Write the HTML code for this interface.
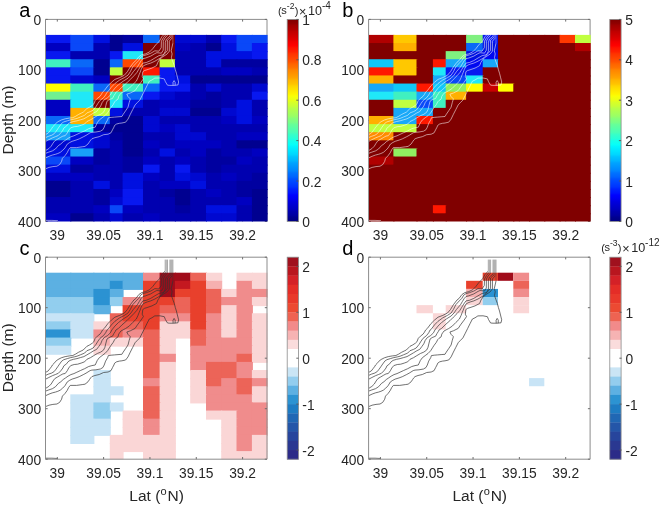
<!DOCTYPE html>
<html><head><meta charset="utf-8"><title>Figure</title><style>html,body{margin:0;padding:0;background:#fff;}body{width:660px;height:506px;overflow:hidden;font-family:"Liberation Sans",sans-serif;}svg{display:block;will-change:transform;}</style></head><body>
<svg width="660" height="506" viewBox="0 0 660 506"><defs><linearGradient id="jetg" x1="0" y1="0" x2="0" y2="1"><stop offset="0" stop-color="#800000"/><stop offset="0.02" stop-color="#900000"/><stop offset="0.03" stop-color="#a00000"/><stop offset="0.05" stop-color="#b00000"/><stop offset="0.06" stop-color="#c00000"/><stop offset="0.08" stop-color="#d00000"/><stop offset="0.1" stop-color="#e10000"/><stop offset="0.11" stop-color="#f10000"/><stop offset="0.13" stop-color="#ff0200"/><stop offset="0.14" stop-color="#ff1200"/><stop offset="0.16" stop-color="#ff2200"/><stop offset="0.17" stop-color="#ff3300"/><stop offset="0.19" stop-color="#ff4300"/><stop offset="0.21" stop-color="#ff5300"/><stop offset="0.22" stop-color="#ff6300"/><stop offset="0.24" stop-color="#ff7300"/><stop offset="0.25" stop-color="#ff8400"/><stop offset="0.27" stop-color="#ff9400"/><stop offset="0.29" stop-color="#ffa400"/><stop offset="0.3" stop-color="#ffb400"/><stop offset="0.32" stop-color="#ffc400"/><stop offset="0.33" stop-color="#ffd400"/><stop offset="0.35" stop-color="#ffe500"/><stop offset="0.37" stop-color="#fff500"/><stop offset="0.38" stop-color="#f9ff06"/><stop offset="0.4" stop-color="#e9ff16"/><stop offset="0.41" stop-color="#d9ff26"/><stop offset="0.43" stop-color="#c8ff37"/><stop offset="0.44" stop-color="#b8ff47"/><stop offset="0.46" stop-color="#a8ff57"/><stop offset="0.48" stop-color="#98ff67"/><stop offset="0.49" stop-color="#88ff77"/><stop offset="0.51" stop-color="#77ff88"/><stop offset="0.52" stop-color="#67ff98"/><stop offset="0.54" stop-color="#57ffa8"/><stop offset="0.56" stop-color="#47ffb8"/><stop offset="0.57" stop-color="#37ffc8"/><stop offset="0.59" stop-color="#26ffd9"/><stop offset="0.6" stop-color="#16ffe9"/><stop offset="0.62" stop-color="#06fff9"/><stop offset="0.63" stop-color="#00f5ff"/><stop offset="0.65" stop-color="#00e5ff"/><stop offset="0.67" stop-color="#00d5ff"/><stop offset="0.68" stop-color="#00c4ff"/><stop offset="0.7" stop-color="#00b4ff"/><stop offset="0.71" stop-color="#00a4ff"/><stop offset="0.73" stop-color="#0094ff"/><stop offset="0.75" stop-color="#0084ff"/><stop offset="0.76" stop-color="#0073ff"/><stop offset="0.78" stop-color="#0063ff"/><stop offset="0.79" stop-color="#0053ff"/><stop offset="0.81" stop-color="#0043ff"/><stop offset="0.83" stop-color="#0033ff"/><stop offset="0.84" stop-color="#0022ff"/><stop offset="0.86" stop-color="#0012ff"/><stop offset="0.87" stop-color="#0002ff"/><stop offset="0.89" stop-color="#0000f1"/><stop offset="0.9" stop-color="#0000e1"/><stop offset="0.92" stop-color="#0000d0"/><stop offset="0.94" stop-color="#0000c0"/><stop offset="0.95" stop-color="#0000b0"/><stop offset="0.97" stop-color="#0000a0"/><stop offset="0.98" stop-color="#000090"/><stop offset="1" stop-color="#000080"/></linearGradient><clipPath id="ca"><rect x="45.9" y="19.4" width="221.7" height="202.1"/></clipPath><clipPath id="cb"><rect x="369" y="19.4" width="221.7" height="202.1"/></clipPath><clipPath id="cc"><rect x="45.9" y="257.2" width="221.7" height="202.1"/></clipPath><clipPath id="cd"><rect x="369" y="257.2" width="221.7" height="202.1"/></clipPath></defs>
<path d="M45.5 221.4 V19.4 H267 V221.4" fill="none" stroke="#8c8c8c" stroke-width="1"/>
<path d="M57.3 19.4 v2.2 M57.3 221.4 v-2.2 M103.62 19.4 v2.2 M103.62 221.4 v-2.2 M149.95 19.4 v2.2 M149.95 221.4 v-2.2 M196.27 19.4 v2.2 M196.27 221.4 v-2.2 M242.6 19.4 v2.2 M242.6 221.4 v-2.2 M45.5 19.4 h2.2 M267 19.4 h-2.2 M45.5 69.9 h2.2 M267 69.9 h-2.2 M45.5 120.4 h2.2 M267 120.4 h-2.2 M45.5 170.9 h2.2 M267 170.9 h-2.2 M45.5 221.4 h2.2 M267 221.4 h-2.2" stroke="#6e6e6e" stroke-width="1" fill="none"/>
<path d="M368.6 221.4 V19.4 H590.1 V221.4" fill="none" stroke="#8c8c8c" stroke-width="1"/>
<path d="M380.4 19.4 v2.2 M380.4 221.4 v-2.2 M426.72 19.4 v2.2 M426.72 221.4 v-2.2 M473.05 19.4 v2.2 M473.05 221.4 v-2.2 M519.37 19.4 v2.2 M519.37 221.4 v-2.2 M565.7 19.4 v2.2 M565.7 221.4 v-2.2 M368.6 19.4 h2.2 M590.1 19.4 h-2.2 M368.6 69.9 h2.2 M590.1 69.9 h-2.2 M368.6 120.4 h2.2 M590.1 120.4 h-2.2 M368.6 170.9 h2.2 M590.1 170.9 h-2.2 M368.6 221.4 h2.2 M590.1 221.4 h-2.2" stroke="#6e6e6e" stroke-width="1" fill="none"/>
<g clip-path="url(#ca)"><rect x="45.9" y="34.9" width="25.4" height="9.11" fill="#0818f0"/>
<rect x="70.3" y="34.9" width="24.1" height="9.11" fill="#0a48f8"/>
<rect x="93.4" y="34.9" width="17.4" height="9.11" fill="#0010e0"/>
<rect x="109.8" y="34.9" width="13.8" height="9.11" fill="#000090"/>
<rect x="122.6" y="34.9" width="21.4" height="9.11" fill="#0000a0"/>
<rect x="143" y="34.9" width="17.6" height="9.11" fill="#0a68f8"/>
<rect x="159.6" y="34.9" width="16.3" height="9.11" fill="#800000"/>
<rect x="174.9" y="34.9" width="16.3" height="9.11" fill="#0008d0"/>
<rect x="190.2" y="34.9" width="16.8" height="9.11" fill="#0008d0"/>
<rect x="206" y="34.9" width="16.2" height="9.11" fill="#0000b0"/>
<rect x="221.2" y="34.9" width="16.3" height="9.11" fill="#0818f0"/>
<rect x="236.5" y="34.9" width="16.4" height="9.11" fill="#0a48f8"/>
<rect x="251.9" y="34.9" width="16.7" height="9.11" fill="#0a48f8"/>
<rect x="45.9" y="43.01" width="25.4" height="9.11" fill="#0000c0"/>
<rect x="70.3" y="43.01" width="24.1" height="9.11" fill="#0a48f8"/>
<rect x="93.4" y="43.01" width="17.4" height="9.11" fill="#0000b0"/>
<rect x="109.8" y="43.01" width="13.8" height="9.11" fill="#000090"/>
<rect x="122.6" y="43.01" width="21.4" height="9.11" fill="#0010e0"/>
<rect x="143" y="43.01" width="17.6" height="9.11" fill="#800000"/>
<rect x="159.6" y="43.01" width="16.3" height="9.11" fill="#800000"/>
<rect x="174.9" y="43.01" width="16.3" height="9.11" fill="#0000c0"/>
<rect x="190.2" y="43.01" width="16.8" height="9.11" fill="#0000b0"/>
<rect x="206" y="43.01" width="16.2" height="9.11" fill="#000090"/>
<rect x="221.2" y="43.01" width="16.3" height="9.11" fill="#0010e0"/>
<rect x="236.5" y="43.01" width="16.4" height="9.11" fill="#0a48f8"/>
<rect x="251.9" y="43.01" width="16.7" height="9.11" fill="#0818f0"/>
<rect x="45.9" y="51.12" width="25.4" height="9.11" fill="#0818f0"/>
<rect x="70.3" y="51.12" width="24.1" height="9.11" fill="#0000b0"/>
<rect x="93.4" y="51.12" width="17.4" height="9.11" fill="#0000b0"/>
<rect x="109.8" y="51.12" width="13.8" height="9.11" fill="#0818f0"/>
<rect x="122.6" y="51.12" width="21.4" height="9.11" fill="#20e8f8"/>
<rect x="143" y="51.12" width="17.6" height="9.11" fill="#800000"/>
<rect x="159.6" y="51.12" width="16.3" height="9.11" fill="#800000"/>
<rect x="174.9" y="51.12" width="16.3" height="9.11" fill="#0000b0"/>
<rect x="190.2" y="51.12" width="16.8" height="9.11" fill="#0000b0"/>
<rect x="206" y="51.12" width="16.2" height="9.11" fill="#0010e0"/>
<rect x="221.2" y="51.12" width="16.3" height="9.11" fill="#0010e0"/>
<rect x="236.5" y="51.12" width="16.4" height="9.11" fill="#0010e0"/>
<rect x="251.9" y="51.12" width="16.7" height="9.11" fill="#0818f0"/>
<rect x="45.9" y="59.23" width="25.4" height="9.11" fill="#40f0c0"/>
<rect x="70.3" y="59.23" width="24.1" height="9.11" fill="#0a68f8"/>
<rect x="93.4" y="59.23" width="17.4" height="9.11" fill="#000090"/>
<rect x="109.8" y="59.23" width="13.8" height="9.11" fill="#0a68f8"/>
<rect x="122.6" y="59.23" width="21.4" height="9.11" fill="#ff4800"/>
<rect x="143" y="59.23" width="17.6" height="9.11" fill="#800000"/>
<rect x="159.6" y="59.23" width="16.3" height="9.11" fill="#c0ff40"/>
<rect x="174.9" y="59.23" width="16.3" height="9.11" fill="#0000b0"/>
<rect x="190.2" y="59.23" width="16.8" height="9.11" fill="#0000b0"/>
<rect x="206" y="59.23" width="16.2" height="9.11" fill="#0010e0"/>
<rect x="221.2" y="59.23" width="16.3" height="9.11" fill="#0000a0"/>
<rect x="236.5" y="59.23" width="16.4" height="9.11" fill="#0000a0"/>
<rect x="251.9" y="59.23" width="16.7" height="9.11" fill="#0000a0"/>
<rect x="45.9" y="67.33" width="25.4" height="9.11" fill="#0818f0"/>
<rect x="70.3" y="67.33" width="24.1" height="9.11" fill="#0a48f8"/>
<rect x="93.4" y="67.33" width="17.4" height="9.11" fill="#000090"/>
<rect x="109.8" y="67.33" width="13.8" height="9.11" fill="#c0ff40"/>
<rect x="122.6" y="67.33" width="21.4" height="9.11" fill="#800000"/>
<rect x="143" y="67.33" width="17.6" height="9.11" fill="#ff1800"/>
<rect x="159.6" y="67.33" width="16.3" height="9.11" fill="#0818f0"/>
<rect x="174.9" y="67.33" width="16.3" height="9.11" fill="#0000b0"/>
<rect x="190.2" y="67.33" width="16.8" height="9.11" fill="#0000b0"/>
<rect x="206" y="67.33" width="16.2" height="9.11" fill="#0000b0"/>
<rect x="221.2" y="67.33" width="16.3" height="9.11" fill="#0000c0"/>
<rect x="236.5" y="67.33" width="16.4" height="9.11" fill="#0000c0"/>
<rect x="251.9" y="67.33" width="16.7" height="9.11" fill="#0000b0"/>
<rect x="45.9" y="75.44" width="25.4" height="9.11" fill="#0818f0"/>
<rect x="70.3" y="75.44" width="24.1" height="9.11" fill="#0008d0"/>
<rect x="93.4" y="75.44" width="17.4" height="9.11" fill="#0000c0"/>
<rect x="109.8" y="75.44" width="13.8" height="9.11" fill="#800000"/>
<rect x="122.6" y="75.44" width="21.4" height="9.11" fill="#800000"/>
<rect x="143" y="75.44" width="17.6" height="9.11" fill="#40f0c0"/>
<rect x="159.6" y="75.44" width="16.3" height="9.11" fill="#0818f0"/>
<rect x="174.9" y="75.44" width="16.3" height="9.11" fill="#0010e0"/>
<rect x="190.2" y="75.44" width="16.8" height="9.11" fill="#000090"/>
<rect x="206" y="75.44" width="16.2" height="9.11" fill="#000090"/>
<rect x="221.2" y="75.44" width="16.3" height="9.11" fill="#000090"/>
<rect x="236.5" y="75.44" width="16.4" height="9.11" fill="#000090"/>
<rect x="251.9" y="75.44" width="16.7" height="9.11" fill="#000090"/>
<rect x="45.9" y="83.55" width="25.4" height="9.11" fill="#ffff00"/>
<rect x="70.3" y="83.55" width="24.1" height="9.11" fill="#40f0c0"/>
<rect x="93.4" y="83.55" width="17.4" height="9.11" fill="#0a68f8"/>
<rect x="109.8" y="83.55" width="13.8" height="9.11" fill="#ff4800"/>
<rect x="122.6" y="83.55" width="21.4" height="9.11" fill="#40f0c0"/>
<rect x="143" y="83.55" width="17.6" height="9.11" fill="#0a68f8"/>
<rect x="159.6" y="83.55" width="16.3" height="9.11" fill="#0818f0"/>
<rect x="174.9" y="83.55" width="16.3" height="9.11" fill="#0818f0"/>
<rect x="190.2" y="83.55" width="16.8" height="9.11" fill="#0000b0"/>
<rect x="206" y="83.55" width="16.2" height="9.11" fill="#0008d0"/>
<rect x="221.2" y="83.55" width="16.3" height="9.11" fill="#0000b0"/>
<rect x="236.5" y="83.55" width="16.4" height="9.11" fill="#0000b0"/>
<rect x="251.9" y="83.55" width="16.7" height="9.11" fill="#0008d0"/>
<rect x="45.9" y="91.66" width="25.4" height="9.11" fill="#70f090"/>
<rect x="70.3" y="91.66" width="24.1" height="9.11" fill="#20e8f8"/>
<rect x="93.4" y="91.66" width="17.4" height="9.11" fill="#ff4800"/>
<rect x="109.8" y="91.66" width="13.8" height="9.11" fill="#40f0c0"/>
<rect x="122.6" y="91.66" width="21.4" height="9.11" fill="#0a68f8"/>
<rect x="143" y="91.66" width="17.6" height="9.11" fill="#0818f0"/>
<rect x="159.6" y="91.66" width="16.3" height="9.11" fill="#0008d0"/>
<rect x="174.9" y="91.66" width="16.3" height="9.11" fill="#0000c0"/>
<rect x="190.2" y="91.66" width="16.8" height="9.11" fill="#0000b0"/>
<rect x="206" y="91.66" width="16.2" height="9.11" fill="#0000a0"/>
<rect x="221.2" y="91.66" width="16.3" height="9.11" fill="#0000b0"/>
<rect x="236.5" y="91.66" width="16.4" height="9.11" fill="#0000b0"/>
<rect x="251.9" y="91.66" width="16.7" height="9.11" fill="#0818f0"/>
<rect x="45.9" y="99.77" width="25.4" height="9.11" fill="#0000c0"/>
<rect x="70.3" y="99.77" width="24.1" height="9.11" fill="#20e8f8"/>
<rect x="93.4" y="99.77" width="17.4" height="9.11" fill="#800000"/>
<rect x="109.8" y="99.77" width="13.8" height="9.11" fill="#20e8f8"/>
<rect x="122.6" y="99.77" width="21.4" height="9.11" fill="#0010e0"/>
<rect x="143" y="99.77" width="17.6" height="9.11" fill="#0000b0"/>
<rect x="159.6" y="99.77" width="16.3" height="9.11" fill="#0000c0"/>
<rect x="174.9" y="99.77" width="16.3" height="9.11" fill="#0000c0"/>
<rect x="190.2" y="99.77" width="16.8" height="9.11" fill="#0000a0"/>
<rect x="206" y="99.77" width="16.2" height="9.11" fill="#0000a0"/>
<rect x="221.2" y="99.77" width="16.3" height="9.11" fill="#0000b0"/>
<rect x="236.5" y="99.77" width="16.4" height="9.11" fill="#0010e0"/>
<rect x="251.9" y="99.77" width="16.7" height="9.11" fill="#0000b0"/>
<rect x="45.9" y="107.88" width="25.4" height="9.11" fill="#0000c0"/>
<rect x="70.3" y="107.88" width="24.1" height="9.11" fill="#ffb000"/>
<rect x="93.4" y="107.88" width="17.4" height="9.11" fill="#c0ff40"/>
<rect x="109.8" y="107.88" width="13.8" height="9.11" fill="#0010e0"/>
<rect x="122.6" y="107.88" width="21.4" height="9.11" fill="#0000b0"/>
<rect x="143" y="107.88" width="17.6" height="9.11" fill="#0000b0"/>
<rect x="159.6" y="107.88" width="16.3" height="9.11" fill="#0008d0"/>
<rect x="174.9" y="107.88" width="16.3" height="9.11" fill="#0008d0"/>
<rect x="190.2" y="107.88" width="16.8" height="9.11" fill="#000090"/>
<rect x="206" y="107.88" width="16.2" height="9.11" fill="#000090"/>
<rect x="221.2" y="107.88" width="16.3" height="9.11" fill="#0008d0"/>
<rect x="236.5" y="107.88" width="16.4" height="9.11" fill="#0010e0"/>
<rect x="251.9" y="107.88" width="16.7" height="9.11" fill="#0000b0"/>
<rect x="45.9" y="115.99" width="25.4" height="9.11" fill="#0a68f8"/>
<rect x="70.3" y="115.99" width="24.1" height="9.11" fill="#ffb000"/>
<rect x="93.4" y="115.99" width="17.4" height="9.11" fill="#0a68f8"/>
<rect x="109.8" y="115.99" width="13.8" height="9.11" fill="#0000a0"/>
<rect x="122.6" y="115.99" width="21.4" height="9.11" fill="#000090"/>
<rect x="143" y="115.99" width="17.6" height="9.11" fill="#0008d0"/>
<rect x="159.6" y="115.99" width="16.3" height="9.11" fill="#0000b0"/>
<rect x="174.9" y="115.99" width="16.3" height="9.11" fill="#0000b0"/>
<rect x="190.2" y="115.99" width="16.8" height="9.11" fill="#0000b0"/>
<rect x="206" y="115.99" width="16.2" height="9.11" fill="#0000b0"/>
<rect x="221.2" y="115.99" width="16.3" height="9.11" fill="#0000c0"/>
<rect x="236.5" y="115.99" width="16.4" height="9.11" fill="#0010e0"/>
<rect x="251.9" y="115.99" width="16.7" height="9.11" fill="#0000c0"/>
<rect x="45.9" y="124.1" width="25.4" height="9.11" fill="#20e8f8"/>
<rect x="70.3" y="124.1" width="24.1" height="9.11" fill="#20e8f8"/>
<rect x="93.4" y="124.1" width="17.4" height="9.11" fill="#0000a0"/>
<rect x="109.8" y="124.1" width="13.8" height="9.11" fill="#000090"/>
<rect x="122.6" y="124.1" width="21.4" height="9.11" fill="#000090"/>
<rect x="143" y="124.1" width="17.6" height="9.11" fill="#0008d0"/>
<rect x="159.6" y="124.1" width="16.3" height="9.11" fill="#0000c0"/>
<rect x="174.9" y="124.1" width="16.3" height="9.11" fill="#0008d0"/>
<rect x="190.2" y="124.1" width="16.8" height="9.11" fill="#0000b0"/>
<rect x="206" y="124.1" width="16.2" height="9.11" fill="#0000b0"/>
<rect x="221.2" y="124.1" width="16.3" height="9.11" fill="#0000b0"/>
<rect x="236.5" y="124.1" width="16.4" height="9.11" fill="#0000b0"/>
<rect x="251.9" y="124.1" width="16.7" height="9.11" fill="#0000b0"/>
<rect x="45.9" y="132.2" width="25.4" height="9.11" fill="#18a0f8"/>
<rect x="70.3" y="132.2" width="24.1" height="9.11" fill="#0010e0"/>
<rect x="93.4" y="132.2" width="17.4" height="9.11" fill="#0008d0"/>
<rect x="109.8" y="132.2" width="13.8" height="9.11" fill="#0000a0"/>
<rect x="122.6" y="132.2" width="21.4" height="9.11" fill="#000090"/>
<rect x="143" y="132.2" width="17.6" height="9.11" fill="#0000b0"/>
<rect x="159.6" y="132.2" width="16.3" height="9.11" fill="#0000b0"/>
<rect x="174.9" y="132.2" width="16.3" height="9.11" fill="#0008d0"/>
<rect x="190.2" y="132.2" width="16.8" height="9.11" fill="#0008d0"/>
<rect x="206" y="132.2" width="16.2" height="9.11" fill="#0000b0"/>
<rect x="221.2" y="132.2" width="16.3" height="9.11" fill="#0000b0"/>
<rect x="236.5" y="132.2" width="16.4" height="9.11" fill="#0000c0"/>
<rect x="251.9" y="132.2" width="16.7" height="9.11" fill="#0000c0"/>
<rect x="45.9" y="140.31" width="25.4" height="9.11" fill="#0008d0"/>
<rect x="70.3" y="140.31" width="24.1" height="9.11" fill="#0010e0"/>
<rect x="93.4" y="140.31" width="17.4" height="9.11" fill="#0008d0"/>
<rect x="109.8" y="140.31" width="13.8" height="9.11" fill="#0000b0"/>
<rect x="122.6" y="140.31" width="21.4" height="9.11" fill="#000090"/>
<rect x="143" y="140.31" width="17.6" height="9.11" fill="#0000c0"/>
<rect x="159.6" y="140.31" width="16.3" height="9.11" fill="#0000b0"/>
<rect x="174.9" y="140.31" width="16.3" height="9.11" fill="#0000c0"/>
<rect x="190.2" y="140.31" width="16.8" height="9.11" fill="#0000c0"/>
<rect x="206" y="140.31" width="16.2" height="9.11" fill="#0000c0"/>
<rect x="221.2" y="140.31" width="16.3" height="9.11" fill="#0000b0"/>
<rect x="236.5" y="140.31" width="16.4" height="9.11" fill="#000090"/>
<rect x="251.9" y="140.31" width="16.7" height="9.11" fill="#000090"/>
<rect x="45.9" y="148.42" width="25.4" height="9.11" fill="#0010e0"/>
<rect x="70.3" y="148.42" width="24.1" height="9.11" fill="#18a0f8"/>
<rect x="93.4" y="148.42" width="17.4" height="9.11" fill="#0000a0"/>
<rect x="109.8" y="148.42" width="13.8" height="9.11" fill="#0000b0"/>
<rect x="122.6" y="148.42" width="21.4" height="9.11" fill="#000090"/>
<rect x="143" y="148.42" width="17.6" height="9.11" fill="#0000b0"/>
<rect x="159.6" y="148.42" width="16.3" height="9.11" fill="#0010e0"/>
<rect x="174.9" y="148.42" width="16.3" height="9.11" fill="#0000b0"/>
<rect x="190.2" y="148.42" width="16.8" height="9.11" fill="#0000c0"/>
<rect x="206" y="148.42" width="16.2" height="9.11" fill="#0000a0"/>
<rect x="221.2" y="148.42" width="16.3" height="9.11" fill="#0000b0"/>
<rect x="236.5" y="148.42" width="16.4" height="9.11" fill="#0000b0"/>
<rect x="251.9" y="148.42" width="16.7" height="9.11" fill="#0000c0"/>
<rect x="45.9" y="156.53" width="25.4" height="9.11" fill="#0a48f8"/>
<rect x="70.3" y="156.53" width="24.1" height="9.11" fill="#0000c0"/>
<rect x="93.4" y="156.53" width="17.4" height="9.11" fill="#0000a0"/>
<rect x="109.8" y="156.53" width="13.8" height="9.11" fill="#0000b0"/>
<rect x="122.6" y="156.53" width="21.4" height="9.11" fill="#0000a0"/>
<rect x="143" y="156.53" width="17.6" height="9.11" fill="#0000c0"/>
<rect x="159.6" y="156.53" width="16.3" height="9.11" fill="#0000b0"/>
<rect x="174.9" y="156.53" width="16.3" height="9.11" fill="#0000c0"/>
<rect x="190.2" y="156.53" width="16.8" height="9.11" fill="#0000b0"/>
<rect x="206" y="156.53" width="16.2" height="9.11" fill="#0000a0"/>
<rect x="221.2" y="156.53" width="16.3" height="9.11" fill="#0000a0"/>
<rect x="236.5" y="156.53" width="16.4" height="9.11" fill="#0000c0"/>
<rect x="251.9" y="156.53" width="16.7" height="9.11" fill="#0000b0"/>
<rect x="45.9" y="164.64" width="25.4" height="9.11" fill="#0010e0"/>
<rect x="70.3" y="164.64" width="24.1" height="9.11" fill="#0000a0"/>
<rect x="93.4" y="164.64" width="17.4" height="9.11" fill="#0000b0"/>
<rect x="109.8" y="164.64" width="13.8" height="9.11" fill="#0000b0"/>
<rect x="122.6" y="164.64" width="21.4" height="9.11" fill="#0000a0"/>
<rect x="143" y="164.64" width="17.6" height="9.11" fill="#0818f0"/>
<rect x="159.6" y="164.64" width="16.3" height="9.11" fill="#0000b0"/>
<rect x="174.9" y="164.64" width="16.3" height="9.11" fill="#0818f0"/>
<rect x="190.2" y="164.64" width="16.8" height="9.11" fill="#0000b0"/>
<rect x="206" y="164.64" width="16.2" height="9.11" fill="#0000a0"/>
<rect x="221.2" y="164.64" width="16.3" height="9.11" fill="#0000b0"/>
<rect x="236.5" y="164.64" width="16.4" height="9.11" fill="#0000b0"/>
<rect x="251.9" y="164.64" width="16.7" height="9.11" fill="#0000b0"/>
<rect x="45.9" y="172.75" width="25.4" height="9.11" fill="#0000c0"/>
<rect x="70.3" y="172.75" width="24.1" height="9.11" fill="#0000c0"/>
<rect x="93.4" y="172.75" width="17.4" height="9.11" fill="#0000b0"/>
<rect x="109.8" y="172.75" width="13.8" height="9.11" fill="#0000b0"/>
<rect x="122.6" y="172.75" width="21.4" height="9.11" fill="#0010e0"/>
<rect x="143" y="172.75" width="17.6" height="9.11" fill="#0000c0"/>
<rect x="159.6" y="172.75" width="16.3" height="9.11" fill="#0000b0"/>
<rect x="174.9" y="172.75" width="16.3" height="9.11" fill="#0010e0"/>
<rect x="190.2" y="172.75" width="16.8" height="9.11" fill="#0008d0"/>
<rect x="206" y="172.75" width="16.2" height="9.11" fill="#0000b0"/>
<rect x="221.2" y="172.75" width="16.3" height="9.11" fill="#0000c0"/>
<rect x="236.5" y="172.75" width="16.4" height="9.11" fill="#0000b0"/>
<rect x="251.9" y="172.75" width="16.7" height="9.11" fill="#0000a0"/>
<rect x="45.9" y="180.86" width="25.4" height="9.11" fill="#000090"/>
<rect x="70.3" y="180.86" width="24.1" height="9.11" fill="#0000b0"/>
<rect x="93.4" y="180.86" width="17.4" height="9.11" fill="#0010e0"/>
<rect x="109.8" y="180.86" width="13.8" height="9.11" fill="#0000b0"/>
<rect x="122.6" y="180.86" width="21.4" height="9.11" fill="#0010e0"/>
<rect x="143" y="180.86" width="17.6" height="9.11" fill="#0000b0"/>
<rect x="159.6" y="180.86" width="16.3" height="9.11" fill="#0000c0"/>
<rect x="174.9" y="180.86" width="16.3" height="9.11" fill="#0000c0"/>
<rect x="190.2" y="180.86" width="16.8" height="9.11" fill="#0010e0"/>
<rect x="206" y="180.86" width="16.2" height="9.11" fill="#0000b0"/>
<rect x="221.2" y="180.86" width="16.3" height="9.11" fill="#0000b0"/>
<rect x="236.5" y="180.86" width="16.4" height="9.11" fill="#0000a0"/>
<rect x="251.9" y="180.86" width="16.7" height="9.11" fill="#0000a0"/>
<rect x="45.9" y="188.97" width="25.4" height="9.11" fill="#000090"/>
<rect x="70.3" y="188.97" width="24.1" height="9.11" fill="#0000b0"/>
<rect x="93.4" y="188.97" width="17.4" height="9.11" fill="#0000a0"/>
<rect x="109.8" y="188.97" width="13.8" height="9.11" fill="#0000c0"/>
<rect x="122.6" y="188.97" width="21.4" height="9.11" fill="#0818f0"/>
<rect x="143" y="188.97" width="17.6" height="9.11" fill="#0000b0"/>
<rect x="159.6" y="188.97" width="16.3" height="9.11" fill="#0000a0"/>
<rect x="174.9" y="188.97" width="16.3" height="9.11" fill="#000090"/>
<rect x="190.2" y="188.97" width="16.8" height="9.11" fill="#0000b0"/>
<rect x="206" y="188.97" width="16.2" height="9.11" fill="#0000c0"/>
<rect x="221.2" y="188.97" width="16.3" height="9.11" fill="#0000b0"/>
<rect x="236.5" y="188.97" width="16.4" height="9.11" fill="#0000a0"/>
<rect x="251.9" y="188.97" width="16.7" height="9.11" fill="#000090"/>
<rect x="45.9" y="197.07" width="25.4" height="9.11" fill="#0000b0"/>
<rect x="70.3" y="197.07" width="24.1" height="9.11" fill="#0000b0"/>
<rect x="93.4" y="197.07" width="17.4" height="9.11" fill="#0000a0"/>
<rect x="109.8" y="197.07" width="13.8" height="9.11" fill="#0008d0"/>
<rect x="122.6" y="197.07" width="21.4" height="9.11" fill="#0818f0"/>
<rect x="143" y="197.07" width="17.6" height="9.11" fill="#0000b0"/>
<rect x="159.6" y="197.07" width="16.3" height="9.11" fill="#0000b0"/>
<rect x="174.9" y="197.07" width="16.3" height="9.11" fill="#000090"/>
<rect x="190.2" y="197.07" width="16.8" height="9.11" fill="#0000b0"/>
<rect x="206" y="197.07" width="16.2" height="9.11" fill="#0000b0"/>
<rect x="221.2" y="197.07" width="16.3" height="9.11" fill="#0000b0"/>
<rect x="236.5" y="197.07" width="16.4" height="9.11" fill="#0000c0"/>
<rect x="251.9" y="197.07" width="16.7" height="9.11" fill="#000090"/>
<rect x="45.9" y="205.18" width="25.4" height="9.11" fill="#0000b0"/>
<rect x="70.3" y="205.18" width="24.1" height="9.11" fill="#0000b0"/>
<rect x="93.4" y="205.18" width="17.4" height="9.11" fill="#0000c0"/>
<rect x="109.8" y="205.18" width="13.8" height="9.11" fill="#0a48f8"/>
<rect x="122.6" y="205.18" width="21.4" height="9.11" fill="#0000c0"/>
<rect x="143" y="205.18" width="17.6" height="9.11" fill="#0000b0"/>
<rect x="159.6" y="205.18" width="16.3" height="9.11" fill="#0000b0"/>
<rect x="174.9" y="205.18" width="16.3" height="9.11" fill="#0000a0"/>
<rect x="190.2" y="205.18" width="16.8" height="9.11" fill="#0000b0"/>
<rect x="206" y="205.18" width="16.2" height="9.11" fill="#0010e0"/>
<rect x="221.2" y="205.18" width="16.3" height="9.11" fill="#0010e0"/>
<rect x="236.5" y="205.18" width="16.4" height="9.11" fill="#0000b0"/>
<rect x="251.9" y="205.18" width="16.7" height="9.11" fill="#000090"/>
<rect x="45.9" y="213.29" width="25.4" height="9.11" fill="#0000c0"/>
<rect x="70.3" y="213.29" width="24.1" height="9.11" fill="#000090"/>
<rect x="93.4" y="213.29" width="17.4" height="9.11" fill="#0000b0"/>
<rect x="109.8" y="213.29" width="13.8" height="9.11" fill="#0008d0"/>
<rect x="122.6" y="213.29" width="21.4" height="9.11" fill="#0000b0"/>
<rect x="143" y="213.29" width="17.6" height="9.11" fill="#0000c0"/>
<rect x="159.6" y="213.29" width="16.3" height="9.11" fill="#0000b0"/>
<rect x="174.9" y="213.29" width="16.3" height="9.11" fill="#0000b0"/>
<rect x="190.2" y="213.29" width="16.8" height="9.11" fill="#0000b0"/>
<rect x="206" y="213.29" width="16.2" height="9.11" fill="#0008d0"/>
<rect x="221.2" y="213.29" width="16.3" height="9.11" fill="#0008d0"/>
<rect x="236.5" y="213.29" width="16.4" height="9.11" fill="#0000b0"/>
<rect x="251.9" y="213.29" width="16.7" height="9.11" fill="#000090"/><g fill="none" stroke="#ffffff" stroke-width="0.55" stroke-linejoin="round"><path d="M165.2 33.2 L161.9 36.7 L159.5 41 L155.6 45 L152.6 48.9 L149.6 51.9 L145.7 53.8 L141.7 54.8 L138.8 56.8 L135.8 60.8 L133.9 62.2 L130.3 66.9 L127.4 71.7 L124.4 75.2 L119.7 77.6 L114.9 79.4 L111.4 82.3 L107.8 85.9 L104.3 90.6 L102.5 92.2 L101.4 94.3 L100 96.3 L97.3 98.4 L95.2 100.5 L93.8 104 L92.4 105.3 L89.7 107.1 L86.9 108.5 L83.2 112.2 L81.1 113.2 L78.3 114.6 L75.6 116.3 L72.8 117.7 L69.3 118.1 L65.2 118.8 L61.3 120 L58 121.7 L55.7 123.5 L53.9 125.8 L52.4 127.2 L51.8 128.4 L50 130.8 L48.2 133.1 L45.6 134.6"/><path d="M166.3 34.2 L163.4 37.7 L161.4 41.2 L161.2 47.7 L158.9 51.2 L154.9 50.8 L150.7 53.3 L146.3 54.9 L142.9 55.8 L140.6 57.4 L138.7 60.6 L136.2 63.1 L132.7 66.9 L130.3 71.7 L128 75.2 L124.4 77.6 L119.7 80 L114.9 83.5 L111.4 87.1 L107.8 91.8 L107 92.2 L105.6 95 L103.5 97.7 L100 100.5 L98 103.3 L95.9 106.7 L93.1 110.2 L90.4 111.6 L86.9 112.9 L84.6 115.3 L80.4 117 L77 118.4 L74.2 119.1 L70.7 119.8 L67.3 120.8 L63.8 121.9 L61.7 123.3 L58.9 127.2 L57.7 129 L56 131.4 L54.2 133.7 L51.8 135.2 L48.2 136.4 L45.6 137.6"/><path d="M167.5 35.2 L164.9 38.2 L163.3 41.2 L163.2 50.2 L161.4 53.2 L156.9 52.7 L154.9 53.6 L150.7 56.1 L145.7 58 L142.9 58.7 L141.2 60.6 L139.3 63.7 L137.4 66.9 L133.3 71.7 L130.9 75.2 L128 78.2 L123.2 81.2 L118.5 84.7 L114.9 88.3 L111.8 92.2 L110.4 95 L107.6 97.7 L104.2 99.8 L102.1 102.6 L100.7 106 L98.7 108.8 L96.6 111.6 L93.8 112.9 L90.4 115 L86.9 117.1 L83.9 118.8 L80.4 119.8 L77 120.8 L73.5 121.5 L70 122.6 L68 124 L66.6 126 L63.8 128.1 L62.9 130.2 L60.7 133.1 L58.3 135.5 L55.4 136.7 L52.4 137.9 L48.8 139.7 L45.6 141.4"/><path d="M169.9 36.2 L166.4 39.2 L165.3 42.2 L165.3 51.2 L163.4 54.7 L158.9 55.7 L154.9 58 L150.7 60.6 L146.3 62.5 L142.9 63.1 L140.6 66.3 L138.7 69.4 L136.8 72.6 L133.9 75.8 L130.3 79.4 L126.8 82.9 L122 87.1 L118.5 90.6 L115.9 92.2 L115.3 93.6 L113.9 95.7 L112.5 98.4 L109 99.8 L107 101.2 L105.9 105.3 L104.9 109.5 L103.5 112.3 L100.7 114.3 L97.3 115.7 L93.8 117.8 L90.4 119.9 L86.9 121.5 L84.6 124 L81.1 125.3 L77.6 126.4 L74.2 126.7 L70.7 127.8 L68.7 130.2 L67.3 132.9 L65.2 135.7 L62.9 136.1 L60.7 137.3 L57.7 139.1 L54.8 140.8 L53 143.2 L51.2 146.2 L48.8 148.6 L45.6 150.6"/><path d="M170.9 37.2 L167.4 40.2 L167.3 50.7 L164.9 53.4 L160.9 57.7 L154.9 61.2 L150.7 63.1 L147.6 64 L145 65 L142.9 66.2 L141.2 69.4 L140 72.6 L139.1 74.7 L138 77.6 L136.3 81.2 L132.7 84.7 L129.2 88.3 L125.6 90.7 L120.9 93.2 L120.1 94.3 L118.7 96.3 L118 99.1 L115.9 100.5 L114.6 101.9 L113.2 104.6 L111.1 107.4 L109.7 109.5 L107.6 112.9 L104.9 115.7 L102.1 117.8 L99.3 119.9 L97.3 122.6 L95.2 127.2 L91.9 127.8 L88.7 128.7 L84.6 130.9 L80.5 132.7 L76.9 134.4 L73.9 135.8 L70.9 136.8 L68 138.4 L65.6 140.1 L63.2 141.7 L60.9 143.9 L58.4 145.6 L55.4 149 L52.4 150.9 L48.8 152.1 L45.6 153.3"/><path d="M171.9 38.2 L169.3 41.2 L169.3 51.2 L166.9 54.2 L162.9 56.7 L159.9 59.2 L157.9 62.2 L156.5 65.7 L151.9 68.1 L146.9 69.8 L144.6 70.5 L142.8 71.7 L142.2 76.4 L143.4 78.8 L141 82.3 L137.4 87.1 L135.1 90.6 L130.3 93 L126.8 94.2 L128 96.6 L130.3 98.9 L129.2 102.5 L128 107.2 L125.6 110.8 L123.2 114.3 L121.9 116.5 L118 116.8 L114.6 117.1 L111.1 117.4 L108.3 117.8 L107.6 119.9 L105.6 123.3 L104.2 127.2 L102.9 129.7 L100.4 131.2 L95.9 132 L91.9 132.3 L90.1 132.8 L86 135.4 L83.2 136.9 L79.2 138.9 L76 140.1 L72.1 141.3 L69.7 142.5 L67.3 144.1 L64.9 148 L62.6 150.4 L60.2 152.4 L57.8 153.5 L55.4 154.3 L52.2 155.1 L49 156.3 L45.6 157.9"/><path d="M172.9 43.2 L171.2 50.8 L172.1 53.9 L171.4 57.8 L172.8 61.7 L174.3 65.7 L175.3 69.7 L176.4 73.2 L177.4 77.2 L178.6 82 L177.9 85 L173.9 85.4 L169.9 85.4 L167.5 85.2 L165.4 81.7 L164.3 78.9 L159.9 78 L154.8 78.1 L151.9 80 L149.3 81.2 L146.9 85.9 L144.6 90.6 L142.2 95.4 L139.8 100.1 L137.4 102.5 L135.1 104.9 L132.7 109.6 L130.3 114.3 L128 119.1 L125.6 122.2 L121.9 123 L119.4 123.3 L116.6 124 L114.6 125.4 L113.9 127.2 L112.5 129.8 L111 132.8 L108.1 134.2 L103.6 134.7 L99.2 136.7 L94.9 137.7 L91.9 138.8 L90.8 139.9 L89.4 141.9 L88 144 L85 146.4 L82.2 146.8 L76.6 147.6 L70.3 147.6 L68.7 149.6 L67.1 152.8 L64.8 155.9 L62.4 158.3 L61.6 161.4 L59.6 164.6 L56.9 166.2 L52.9 166.6 L49 167.4 L45.6 168.8"/><path d="M45.6 220.4 L51.9 220.4 L57.9 220.7"/><path d="M165.2 21.8 L165.2 33.2 M166.3 21.8 L166.3 34.2 M167.5 21.8 L167.5 35.2 M169.9 21.8 L169.9 36.2 M170.9 21.8 L170.9 37.2 M171.9 21.8 L171.9 38.2 M172.9 21.8 L172.9 43.2" stroke-width="0.33"/><path d="M173.1 85.4 L173 82.4 L174.1 80.6 L175.2 82.4 L175.1 85.4"/></g></g>
<g clip-path="url(#cb)"><rect x="369" y="34.9" width="25.4" height="9.11" fill="#b00000"/>
<rect x="393.4" y="34.9" width="24.1" height="9.11" fill="#ffc800"/>
<rect x="416.5" y="34.9" width="17.4" height="9.11" fill="#800000"/>
<rect x="432.9" y="34.9" width="13.8" height="9.11" fill="#800000"/>
<rect x="445.7" y="34.9" width="21.4" height="9.11" fill="#800000"/>
<rect x="466.1" y="34.9" width="17.6" height="9.11" fill="#80f080"/>
<rect x="482.7" y="34.9" width="16.3" height="9.11" fill="#0818f0"/>
<rect x="498" y="34.9" width="16.3" height="9.11" fill="#800000"/>
<rect x="513.3" y="34.9" width="16.8" height="9.11" fill="#800000"/>
<rect x="529.1" y="34.9" width="16.2" height="9.11" fill="#800000"/>
<rect x="544.3" y="34.9" width="16.3" height="9.11" fill="#800000"/>
<rect x="559.6" y="34.9" width="16.4" height="9.11" fill="#ff3800"/>
<rect x="575" y="34.9" width="16.7" height="9.11" fill="#c0ff40"/>
<rect x="369" y="43.01" width="25.4" height="9.11" fill="#800000"/>
<rect x="393.4" y="43.01" width="24.1" height="9.11" fill="#ffb000"/>
<rect x="416.5" y="43.01" width="17.4" height="9.11" fill="#800000"/>
<rect x="432.9" y="43.01" width="13.8" height="9.11" fill="#800000"/>
<rect x="445.7" y="43.01" width="21.4" height="9.11" fill="#800000"/>
<rect x="466.1" y="43.01" width="17.6" height="9.11" fill="#0a68f8"/>
<rect x="482.7" y="43.01" width="16.3" height="9.11" fill="#0010e0"/>
<rect x="498" y="43.01" width="16.3" height="9.11" fill="#800000"/>
<rect x="513.3" y="43.01" width="16.8" height="9.11" fill="#800000"/>
<rect x="529.1" y="43.01" width="16.2" height="9.11" fill="#800000"/>
<rect x="544.3" y="43.01" width="16.3" height="9.11" fill="#800000"/>
<rect x="559.6" y="43.01" width="16.4" height="9.11" fill="#800000"/>
<rect x="575" y="43.01" width="16.7" height="9.11" fill="#b00000"/>
<rect x="369" y="51.12" width="25.4" height="9.11" fill="#800000"/>
<rect x="393.4" y="51.12" width="24.1" height="9.11" fill="#800000"/>
<rect x="416.5" y="51.12" width="17.4" height="9.11" fill="#800000"/>
<rect x="432.9" y="51.12" width="13.8" height="9.11" fill="#800000"/>
<rect x="445.7" y="51.12" width="21.4" height="9.11" fill="#80f080"/>
<rect x="466.1" y="51.12" width="17.6" height="9.11" fill="#0010e0"/>
<rect x="482.7" y="51.12" width="16.3" height="9.11" fill="#0008f0"/>
<rect x="498" y="51.12" width="16.3" height="9.11" fill="#800000"/>
<rect x="513.3" y="51.12" width="16.8" height="9.11" fill="#800000"/>
<rect x="529.1" y="51.12" width="16.2" height="9.11" fill="#800000"/>
<rect x="544.3" y="51.12" width="16.3" height="9.11" fill="#800000"/>
<rect x="559.6" y="51.12" width="16.4" height="9.11" fill="#800000"/>
<rect x="575" y="51.12" width="16.7" height="9.11" fill="#800000"/>
<rect x="369" y="59.23" width="25.4" height="9.11" fill="#10c8f8"/>
<rect x="393.4" y="59.23" width="24.1" height="9.11" fill="#ffc800"/>
<rect x="416.5" y="59.23" width="17.4" height="9.11" fill="#800000"/>
<rect x="432.9" y="59.23" width="13.8" height="9.11" fill="#ff1800"/>
<rect x="445.7" y="59.23" width="21.4" height="9.11" fill="#18a8f8"/>
<rect x="466.1" y="59.23" width="17.6" height="9.11" fill="#0008f0"/>
<rect x="482.7" y="59.23" width="16.3" height="9.11" fill="#18a8f8"/>
<rect x="498" y="59.23" width="16.3" height="9.11" fill="#800000"/>
<rect x="513.3" y="59.23" width="16.8" height="9.11" fill="#800000"/>
<rect x="529.1" y="59.23" width="16.2" height="9.11" fill="#800000"/>
<rect x="544.3" y="59.23" width="16.3" height="9.11" fill="#800000"/>
<rect x="559.6" y="59.23" width="16.4" height="9.11" fill="#800000"/>
<rect x="575" y="59.23" width="16.7" height="9.11" fill="#800000"/>
<rect x="369" y="67.33" width="25.4" height="9.11" fill="#ff1800"/>
<rect x="393.4" y="67.33" width="24.1" height="9.11" fill="#ffc800"/>
<rect x="416.5" y="67.33" width="17.4" height="9.11" fill="#800000"/>
<rect x="432.9" y="67.33" width="13.8" height="9.11" fill="#20e8f8"/>
<rect x="445.7" y="67.33" width="21.4" height="9.11" fill="#0818f0"/>
<rect x="466.1" y="67.33" width="17.6" height="9.11" fill="#0818f0"/>
<rect x="482.7" y="67.33" width="16.3" height="9.11" fill="#800000"/>
<rect x="498" y="67.33" width="16.3" height="9.11" fill="#800000"/>
<rect x="513.3" y="67.33" width="16.8" height="9.11" fill="#800000"/>
<rect x="529.1" y="67.33" width="16.2" height="9.11" fill="#800000"/>
<rect x="544.3" y="67.33" width="16.3" height="9.11" fill="#800000"/>
<rect x="559.6" y="67.33" width="16.4" height="9.11" fill="#800000"/>
<rect x="575" y="67.33" width="16.7" height="9.11" fill="#800000"/>
<rect x="369" y="75.44" width="25.4" height="9.11" fill="#ffb000"/>
<rect x="393.4" y="75.44" width="24.1" height="9.11" fill="#800000"/>
<rect x="416.5" y="75.44" width="17.4" height="9.11" fill="#800000"/>
<rect x="432.9" y="75.44" width="13.8" height="9.11" fill="#18a8f8"/>
<rect x="445.7" y="75.44" width="21.4" height="9.11" fill="#0a48f8"/>
<rect x="466.1" y="75.44" width="17.6" height="9.11" fill="#20e8f8"/>
<rect x="482.7" y="75.44" width="16.3" height="9.11" fill="#800000"/>
<rect x="498" y="75.44" width="16.3" height="9.11" fill="#800000"/>
<rect x="513.3" y="75.44" width="16.8" height="9.11" fill="#800000"/>
<rect x="529.1" y="75.44" width="16.2" height="9.11" fill="#800000"/>
<rect x="544.3" y="75.44" width="16.3" height="9.11" fill="#800000"/>
<rect x="559.6" y="75.44" width="16.4" height="9.11" fill="#800000"/>
<rect x="575" y="75.44" width="16.7" height="9.11" fill="#800000"/>
<rect x="369" y="83.55" width="25.4" height="9.11" fill="#18a8f8"/>
<rect x="393.4" y="83.55" width="24.1" height="9.11" fill="#10c8f8"/>
<rect x="416.5" y="83.55" width="17.4" height="9.11" fill="#ff1800"/>
<rect x="432.9" y="83.55" width="13.8" height="9.11" fill="#10c8f8"/>
<rect x="445.7" y="83.55" width="21.4" height="9.11" fill="#90f060"/>
<rect x="466.1" y="83.55" width="17.6" height="9.11" fill="#ffff00"/>
<rect x="482.7" y="83.55" width="16.3" height="9.11" fill="#c80000"/>
<rect x="498" y="83.55" width="16.3" height="9.11" fill="#ffff00"/>
<rect x="513.3" y="83.55" width="16.8" height="9.11" fill="#800000"/>
<rect x="529.1" y="83.55" width="16.2" height="9.11" fill="#800000"/>
<rect x="544.3" y="83.55" width="16.3" height="9.11" fill="#800000"/>
<rect x="559.6" y="83.55" width="16.4" height="9.11" fill="#800000"/>
<rect x="575" y="83.55" width="16.7" height="9.11" fill="#800000"/>
<rect x="369" y="91.66" width="25.4" height="9.11" fill="#20e8f8"/>
<rect x="393.4" y="91.66" width="24.1" height="9.11" fill="#40f0c0"/>
<rect x="416.5" y="91.66" width="17.4" height="9.11" fill="#18a8f8"/>
<rect x="432.9" y="91.66" width="13.8" height="9.11" fill="#40f0c0"/>
<rect x="445.7" y="91.66" width="21.4" height="9.11" fill="#ffb000"/>
<rect x="466.1" y="91.66" width="17.6" height="9.11" fill="#800000"/>
<rect x="482.7" y="91.66" width="16.3" height="9.11" fill="#800000"/>
<rect x="498" y="91.66" width="16.3" height="9.11" fill="#800000"/>
<rect x="513.3" y="91.66" width="16.8" height="9.11" fill="#800000"/>
<rect x="529.1" y="91.66" width="16.2" height="9.11" fill="#800000"/>
<rect x="544.3" y="91.66" width="16.3" height="9.11" fill="#800000"/>
<rect x="559.6" y="91.66" width="16.4" height="9.11" fill="#800000"/>
<rect x="575" y="91.66" width="16.7" height="9.11" fill="#800000"/>
<rect x="369" y="99.77" width="25.4" height="9.11" fill="#800000"/>
<rect x="393.4" y="99.77" width="24.1" height="9.11" fill="#c0ff40"/>
<rect x="416.5" y="99.77" width="17.4" height="9.11" fill="#0a48f8"/>
<rect x="432.9" y="99.77" width="13.8" height="9.11" fill="#40f0c0"/>
<rect x="445.7" y="99.77" width="21.4" height="9.11" fill="#800000"/>
<rect x="466.1" y="99.77" width="17.6" height="9.11" fill="#800000"/>
<rect x="482.7" y="99.77" width="16.3" height="9.11" fill="#800000"/>
<rect x="498" y="99.77" width="16.3" height="9.11" fill="#800000"/>
<rect x="513.3" y="99.77" width="16.8" height="9.11" fill="#800000"/>
<rect x="529.1" y="99.77" width="16.2" height="9.11" fill="#800000"/>
<rect x="544.3" y="99.77" width="16.3" height="9.11" fill="#800000"/>
<rect x="559.6" y="99.77" width="16.4" height="9.11" fill="#800000"/>
<rect x="575" y="99.77" width="16.7" height="9.11" fill="#800000"/>
<rect x="369" y="107.88" width="25.4" height="9.11" fill="#800000"/>
<rect x="393.4" y="107.88" width="24.1" height="9.11" fill="#18a8f8"/>
<rect x="416.5" y="107.88" width="17.4" height="9.11" fill="#18a8f8"/>
<rect x="432.9" y="107.88" width="13.8" height="9.11" fill="#800000"/>
<rect x="445.7" y="107.88" width="21.4" height="9.11" fill="#800000"/>
<rect x="466.1" y="107.88" width="17.6" height="9.11" fill="#800000"/>
<rect x="482.7" y="107.88" width="16.3" height="9.11" fill="#800000"/>
<rect x="498" y="107.88" width="16.3" height="9.11" fill="#800000"/>
<rect x="513.3" y="107.88" width="16.8" height="9.11" fill="#800000"/>
<rect x="529.1" y="107.88" width="16.2" height="9.11" fill="#800000"/>
<rect x="544.3" y="107.88" width="16.3" height="9.11" fill="#800000"/>
<rect x="559.6" y="107.88" width="16.4" height="9.11" fill="#800000"/>
<rect x="575" y="107.88" width="16.7" height="9.11" fill="#800000"/>
<rect x="369" y="115.99" width="25.4" height="9.11" fill="#ffb000"/>
<rect x="393.4" y="115.99" width="24.1" height="9.11" fill="#18a8f8"/>
<rect x="416.5" y="115.99" width="17.4" height="9.11" fill="#ff1800"/>
<rect x="432.9" y="115.99" width="13.8" height="9.11" fill="#800000"/>
<rect x="445.7" y="115.99" width="21.4" height="9.11" fill="#800000"/>
<rect x="466.1" y="115.99" width="17.6" height="9.11" fill="#800000"/>
<rect x="482.7" y="115.99" width="16.3" height="9.11" fill="#800000"/>
<rect x="498" y="115.99" width="16.3" height="9.11" fill="#800000"/>
<rect x="513.3" y="115.99" width="16.8" height="9.11" fill="#800000"/>
<rect x="529.1" y="115.99" width="16.2" height="9.11" fill="#800000"/>
<rect x="544.3" y="115.99" width="16.3" height="9.11" fill="#800000"/>
<rect x="559.6" y="115.99" width="16.4" height="9.11" fill="#800000"/>
<rect x="575" y="115.99" width="16.7" height="9.11" fill="#800000"/>
<rect x="369" y="124.1" width="25.4" height="9.11" fill="#c0ff40"/>
<rect x="393.4" y="124.1" width="24.1" height="9.11" fill="#c0ff40"/>
<rect x="416.5" y="124.1" width="17.4" height="9.11" fill="#800000"/>
<rect x="432.9" y="124.1" width="13.8" height="9.11" fill="#800000"/>
<rect x="445.7" y="124.1" width="21.4" height="9.11" fill="#800000"/>
<rect x="466.1" y="124.1" width="17.6" height="9.11" fill="#800000"/>
<rect x="482.7" y="124.1" width="16.3" height="9.11" fill="#800000"/>
<rect x="498" y="124.1" width="16.3" height="9.11" fill="#800000"/>
<rect x="513.3" y="124.1" width="16.8" height="9.11" fill="#800000"/>
<rect x="529.1" y="124.1" width="16.2" height="9.11" fill="#800000"/>
<rect x="544.3" y="124.1" width="16.3" height="9.11" fill="#800000"/>
<rect x="559.6" y="124.1" width="16.4" height="9.11" fill="#800000"/>
<rect x="575" y="124.1" width="16.7" height="9.11" fill="#800000"/>
<rect x="369" y="132.2" width="25.4" height="9.11" fill="#ff8c00"/>
<rect x="393.4" y="132.2" width="24.1" height="9.11" fill="#800000"/>
<rect x="416.5" y="132.2" width="17.4" height="9.11" fill="#800000"/>
<rect x="432.9" y="132.2" width="13.8" height="9.11" fill="#800000"/>
<rect x="445.7" y="132.2" width="21.4" height="9.11" fill="#800000"/>
<rect x="466.1" y="132.2" width="17.6" height="9.11" fill="#800000"/>
<rect x="482.7" y="132.2" width="16.3" height="9.11" fill="#800000"/>
<rect x="498" y="132.2" width="16.3" height="9.11" fill="#800000"/>
<rect x="513.3" y="132.2" width="16.8" height="9.11" fill="#800000"/>
<rect x="529.1" y="132.2" width="16.2" height="9.11" fill="#800000"/>
<rect x="544.3" y="132.2" width="16.3" height="9.11" fill="#800000"/>
<rect x="559.6" y="132.2" width="16.4" height="9.11" fill="#800000"/>
<rect x="575" y="132.2" width="16.7" height="9.11" fill="#800000"/>
<rect x="369" y="140.31" width="25.4" height="9.11" fill="#800000"/>
<rect x="393.4" y="140.31" width="24.1" height="9.11" fill="#800000"/>
<rect x="416.5" y="140.31" width="17.4" height="9.11" fill="#800000"/>
<rect x="432.9" y="140.31" width="13.8" height="9.11" fill="#800000"/>
<rect x="445.7" y="140.31" width="21.4" height="9.11" fill="#800000"/>
<rect x="466.1" y="140.31" width="17.6" height="9.11" fill="#800000"/>
<rect x="482.7" y="140.31" width="16.3" height="9.11" fill="#800000"/>
<rect x="498" y="140.31" width="16.3" height="9.11" fill="#800000"/>
<rect x="513.3" y="140.31" width="16.8" height="9.11" fill="#800000"/>
<rect x="529.1" y="140.31" width="16.2" height="9.11" fill="#800000"/>
<rect x="544.3" y="140.31" width="16.3" height="9.11" fill="#800000"/>
<rect x="559.6" y="140.31" width="16.4" height="9.11" fill="#800000"/>
<rect x="575" y="140.31" width="16.7" height="9.11" fill="#800000"/>
<rect x="369" y="148.42" width="25.4" height="9.11" fill="#800000"/>
<rect x="393.4" y="148.42" width="24.1" height="9.11" fill="#90f060"/>
<rect x="416.5" y="148.42" width="17.4" height="9.11" fill="#800000"/>
<rect x="432.9" y="148.42" width="13.8" height="9.11" fill="#800000"/>
<rect x="445.7" y="148.42" width="21.4" height="9.11" fill="#800000"/>
<rect x="466.1" y="148.42" width="17.6" height="9.11" fill="#800000"/>
<rect x="482.7" y="148.42" width="16.3" height="9.11" fill="#800000"/>
<rect x="498" y="148.42" width="16.3" height="9.11" fill="#800000"/>
<rect x="513.3" y="148.42" width="16.8" height="9.11" fill="#800000"/>
<rect x="529.1" y="148.42" width="16.2" height="9.11" fill="#800000"/>
<rect x="544.3" y="148.42" width="16.3" height="9.11" fill="#800000"/>
<rect x="559.6" y="148.42" width="16.4" height="9.11" fill="#800000"/>
<rect x="575" y="148.42" width="16.7" height="9.11" fill="#800000"/>
<rect x="369" y="156.53" width="25.4" height="9.11" fill="#b00000"/>
<rect x="393.4" y="156.53" width="24.1" height="9.11" fill="#800000"/>
<rect x="416.5" y="156.53" width="17.4" height="9.11" fill="#800000"/>
<rect x="432.9" y="156.53" width="13.8" height="9.11" fill="#800000"/>
<rect x="445.7" y="156.53" width="21.4" height="9.11" fill="#800000"/>
<rect x="466.1" y="156.53" width="17.6" height="9.11" fill="#800000"/>
<rect x="482.7" y="156.53" width="16.3" height="9.11" fill="#800000"/>
<rect x="498" y="156.53" width="16.3" height="9.11" fill="#800000"/>
<rect x="513.3" y="156.53" width="16.8" height="9.11" fill="#800000"/>
<rect x="529.1" y="156.53" width="16.2" height="9.11" fill="#800000"/>
<rect x="544.3" y="156.53" width="16.3" height="9.11" fill="#800000"/>
<rect x="559.6" y="156.53" width="16.4" height="9.11" fill="#800000"/>
<rect x="575" y="156.53" width="16.7" height="9.11" fill="#800000"/>
<rect x="369" y="164.64" width="25.4" height="9.11" fill="#800000"/>
<rect x="393.4" y="164.64" width="24.1" height="9.11" fill="#800000"/>
<rect x="416.5" y="164.64" width="17.4" height="9.11" fill="#800000"/>
<rect x="432.9" y="164.64" width="13.8" height="9.11" fill="#800000"/>
<rect x="445.7" y="164.64" width="21.4" height="9.11" fill="#800000"/>
<rect x="466.1" y="164.64" width="17.6" height="9.11" fill="#800000"/>
<rect x="482.7" y="164.64" width="16.3" height="9.11" fill="#800000"/>
<rect x="498" y="164.64" width="16.3" height="9.11" fill="#800000"/>
<rect x="513.3" y="164.64" width="16.8" height="9.11" fill="#800000"/>
<rect x="529.1" y="164.64" width="16.2" height="9.11" fill="#800000"/>
<rect x="544.3" y="164.64" width="16.3" height="9.11" fill="#800000"/>
<rect x="559.6" y="164.64" width="16.4" height="9.11" fill="#800000"/>
<rect x="575" y="164.64" width="16.7" height="9.11" fill="#800000"/>
<rect x="369" y="172.75" width="25.4" height="9.11" fill="#800000"/>
<rect x="393.4" y="172.75" width="24.1" height="9.11" fill="#800000"/>
<rect x="416.5" y="172.75" width="17.4" height="9.11" fill="#800000"/>
<rect x="432.9" y="172.75" width="13.8" height="9.11" fill="#800000"/>
<rect x="445.7" y="172.75" width="21.4" height="9.11" fill="#800000"/>
<rect x="466.1" y="172.75" width="17.6" height="9.11" fill="#800000"/>
<rect x="482.7" y="172.75" width="16.3" height="9.11" fill="#800000"/>
<rect x="498" y="172.75" width="16.3" height="9.11" fill="#800000"/>
<rect x="513.3" y="172.75" width="16.8" height="9.11" fill="#800000"/>
<rect x="529.1" y="172.75" width="16.2" height="9.11" fill="#800000"/>
<rect x="544.3" y="172.75" width="16.3" height="9.11" fill="#800000"/>
<rect x="559.6" y="172.75" width="16.4" height="9.11" fill="#800000"/>
<rect x="575" y="172.75" width="16.7" height="9.11" fill="#800000"/>
<rect x="369" y="180.86" width="25.4" height="9.11" fill="#800000"/>
<rect x="393.4" y="180.86" width="24.1" height="9.11" fill="#800000"/>
<rect x="416.5" y="180.86" width="17.4" height="9.11" fill="#800000"/>
<rect x="432.9" y="180.86" width="13.8" height="9.11" fill="#800000"/>
<rect x="445.7" y="180.86" width="21.4" height="9.11" fill="#800000"/>
<rect x="466.1" y="180.86" width="17.6" height="9.11" fill="#800000"/>
<rect x="482.7" y="180.86" width="16.3" height="9.11" fill="#800000"/>
<rect x="498" y="180.86" width="16.3" height="9.11" fill="#800000"/>
<rect x="513.3" y="180.86" width="16.8" height="9.11" fill="#800000"/>
<rect x="529.1" y="180.86" width="16.2" height="9.11" fill="#800000"/>
<rect x="544.3" y="180.86" width="16.3" height="9.11" fill="#800000"/>
<rect x="559.6" y="180.86" width="16.4" height="9.11" fill="#800000"/>
<rect x="575" y="180.86" width="16.7" height="9.11" fill="#800000"/>
<rect x="369" y="188.97" width="25.4" height="9.11" fill="#800000"/>
<rect x="393.4" y="188.97" width="24.1" height="9.11" fill="#800000"/>
<rect x="416.5" y="188.97" width="17.4" height="9.11" fill="#800000"/>
<rect x="432.9" y="188.97" width="13.8" height="9.11" fill="#800000"/>
<rect x="445.7" y="188.97" width="21.4" height="9.11" fill="#800000"/>
<rect x="466.1" y="188.97" width="17.6" height="9.11" fill="#800000"/>
<rect x="482.7" y="188.97" width="16.3" height="9.11" fill="#800000"/>
<rect x="498" y="188.97" width="16.3" height="9.11" fill="#800000"/>
<rect x="513.3" y="188.97" width="16.8" height="9.11" fill="#800000"/>
<rect x="529.1" y="188.97" width="16.2" height="9.11" fill="#800000"/>
<rect x="544.3" y="188.97" width="16.3" height="9.11" fill="#800000"/>
<rect x="559.6" y="188.97" width="16.4" height="9.11" fill="#800000"/>
<rect x="575" y="188.97" width="16.7" height="9.11" fill="#800000"/>
<rect x="369" y="197.07" width="25.4" height="9.11" fill="#800000"/>
<rect x="393.4" y="197.07" width="24.1" height="9.11" fill="#800000"/>
<rect x="416.5" y="197.07" width="17.4" height="9.11" fill="#800000"/>
<rect x="432.9" y="197.07" width="13.8" height="9.11" fill="#800000"/>
<rect x="445.7" y="197.07" width="21.4" height="9.11" fill="#800000"/>
<rect x="466.1" y="197.07" width="17.6" height="9.11" fill="#800000"/>
<rect x="482.7" y="197.07" width="16.3" height="9.11" fill="#800000"/>
<rect x="498" y="197.07" width="16.3" height="9.11" fill="#800000"/>
<rect x="513.3" y="197.07" width="16.8" height="9.11" fill="#800000"/>
<rect x="529.1" y="197.07" width="16.2" height="9.11" fill="#800000"/>
<rect x="544.3" y="197.07" width="16.3" height="9.11" fill="#800000"/>
<rect x="559.6" y="197.07" width="16.4" height="9.11" fill="#800000"/>
<rect x="575" y="197.07" width="16.7" height="9.11" fill="#800000"/>
<rect x="369" y="205.18" width="25.4" height="9.11" fill="#800000"/>
<rect x="393.4" y="205.18" width="24.1" height="9.11" fill="#800000"/>
<rect x="416.5" y="205.18" width="17.4" height="9.11" fill="#800000"/>
<rect x="432.9" y="205.18" width="13.8" height="9.11" fill="#ff1800"/>
<rect x="445.7" y="205.18" width="21.4" height="9.11" fill="#800000"/>
<rect x="466.1" y="205.18" width="17.6" height="9.11" fill="#800000"/>
<rect x="482.7" y="205.18" width="16.3" height="9.11" fill="#800000"/>
<rect x="498" y="205.18" width="16.3" height="9.11" fill="#800000"/>
<rect x="513.3" y="205.18" width="16.8" height="9.11" fill="#800000"/>
<rect x="529.1" y="205.18" width="16.2" height="9.11" fill="#800000"/>
<rect x="544.3" y="205.18" width="16.3" height="9.11" fill="#800000"/>
<rect x="559.6" y="205.18" width="16.4" height="9.11" fill="#800000"/>
<rect x="575" y="205.18" width="16.7" height="9.11" fill="#800000"/>
<rect x="369" y="213.29" width="25.4" height="9.11" fill="#800000"/>
<rect x="393.4" y="213.29" width="24.1" height="9.11" fill="#800000"/>
<rect x="416.5" y="213.29" width="17.4" height="9.11" fill="#800000"/>
<rect x="432.9" y="213.29" width="13.8" height="9.11" fill="#800000"/>
<rect x="445.7" y="213.29" width="21.4" height="9.11" fill="#800000"/>
<rect x="466.1" y="213.29" width="17.6" height="9.11" fill="#800000"/>
<rect x="482.7" y="213.29" width="16.3" height="9.11" fill="#800000"/>
<rect x="498" y="213.29" width="16.3" height="9.11" fill="#800000"/>
<rect x="513.3" y="213.29" width="16.8" height="9.11" fill="#800000"/>
<rect x="529.1" y="213.29" width="16.2" height="9.11" fill="#800000"/>
<rect x="544.3" y="213.29" width="16.3" height="9.11" fill="#800000"/>
<rect x="559.6" y="213.29" width="16.4" height="9.11" fill="#800000"/>
<rect x="575" y="213.29" width="16.7" height="9.11" fill="#800000"/><g fill="none" stroke="#ffffff" stroke-width="0.55" stroke-linejoin="round"><path d="M488.3 33.2 L485 36.7 L482.6 41 L478.7 45 L475.7 48.9 L472.7 51.9 L468.8 53.8 L464.8 54.8 L461.9 56.8 L458.9 60.8 L457 62.2 L453.4 66.9 L450.5 71.7 L447.5 75.2 L442.8 77.6 L438 79.4 L434.5 82.3 L430.9 85.9 L427.4 90.6 L425.6 92.2 L424.5 94.3 L423.1 96.3 L420.4 98.4 L418.3 100.5 L416.9 104 L415.5 105.3 L412.8 107.1 L410 108.5 L406.3 112.2 L404.2 113.2 L401.4 114.6 L398.7 116.3 L395.9 117.7 L392.4 118.1 L388.3 118.8 L384.4 120 L381.1 121.7 L378.8 123.5 L377 125.8 L375.5 127.2 L374.9 128.4 L373.1 130.8 L371.3 133.1 L368.7 134.6"/><path d="M489.4 34.2 L486.5 37.7 L484.5 41.2 L484.3 47.7 L482 51.2 L478 50.8 L473.8 53.3 L469.4 54.9 L466 55.8 L463.7 57.4 L461.8 60.6 L459.3 63.1 L455.8 66.9 L453.4 71.7 L451.1 75.2 L447.5 77.6 L442.8 80 L438 83.5 L434.5 87.1 L430.9 91.8 L430.1 92.2 L428.7 95 L426.6 97.7 L423.1 100.5 L421.1 103.3 L419 106.7 L416.2 110.2 L413.5 111.6 L410 112.9 L407.7 115.3 L403.5 117 L400.1 118.4 L397.3 119.1 L393.8 119.8 L390.4 120.8 L386.9 121.9 L384.8 123.3 L382 127.2 L380.8 129 L379.1 131.4 L377.3 133.7 L374.9 135.2 L371.3 136.4 L368.7 137.6"/><path d="M490.6 35.2 L488 38.2 L486.4 41.2 L486.3 50.2 L484.5 53.2 L480 52.7 L478 53.6 L473.8 56.1 L468.8 58 L466 58.7 L464.3 60.6 L462.4 63.7 L460.5 66.9 L456.4 71.7 L454 75.2 L451.1 78.2 L446.3 81.2 L441.6 84.7 L438 88.3 L434.9 92.2 L433.5 95 L430.7 97.7 L427.3 99.8 L425.2 102.6 L423.8 106 L421.8 108.8 L419.7 111.6 L416.9 112.9 L413.5 115 L410 117.1 L407 118.8 L403.5 119.8 L400.1 120.8 L396.6 121.5 L393.1 122.6 L391.1 124 L389.7 126 L386.9 128.1 L386 130.2 L383.8 133.1 L381.4 135.5 L378.5 136.7 L375.5 137.9 L371.9 139.7 L368.7 141.4"/><path d="M493 36.2 L489.5 39.2 L488.4 42.2 L488.4 51.2 L486.5 54.7 L482 55.7 L478 58 L473.8 60.6 L469.4 62.5 L466 63.1 L463.7 66.3 L461.8 69.4 L459.9 72.6 L457 75.8 L453.4 79.4 L449.9 82.9 L445.1 87.1 L441.6 90.6 L439 92.2 L438.4 93.6 L437 95.7 L435.6 98.4 L432.1 99.8 L430.1 101.2 L429 105.3 L428 109.5 L426.6 112.3 L423.8 114.3 L420.4 115.7 L416.9 117.8 L413.5 119.9 L410 121.5 L407.7 124 L404.2 125.3 L400.7 126.4 L397.3 126.7 L393.8 127.8 L391.8 130.2 L390.4 132.9 L388.3 135.7 L386 136.1 L383.8 137.3 L380.8 139.1 L377.9 140.8 L376.1 143.2 L374.3 146.2 L371.9 148.6 L368.7 150.6"/><path d="M494 37.2 L490.5 40.2 L490.4 50.7 L488 53.4 L484 57.7 L478 61.2 L473.8 63.1 L470.7 64 L468.1 65 L466 66.2 L464.3 69.4 L463.1 72.6 L462.2 74.7 L461.1 77.6 L459.4 81.2 L455.8 84.7 L452.3 88.3 L448.7 90.7 L444 93.2 L443.2 94.3 L441.8 96.3 L441.1 99.1 L439 100.5 L437.7 101.9 L436.3 104.6 L434.2 107.4 L432.8 109.5 L430.7 112.9 L428 115.7 L425.2 117.8 L422.4 119.9 L420.4 122.6 L418.3 127.2 L415 127.8 L411.8 128.7 L407.7 130.9 L403.6 132.7 L400 134.4 L397 135.8 L394 136.8 L391.1 138.4 L388.7 140.1 L386.3 141.7 L384 143.9 L381.5 145.6 L378.5 149 L375.5 150.9 L371.9 152.1 L368.7 153.3"/><path d="M495 38.2 L492.4 41.2 L492.4 51.2 L490 54.2 L486 56.7 L483 59.2 L481 62.2 L479.6 65.7 L475 68.1 L470 69.8 L467.7 70.5 L465.9 71.7 L465.3 76.4 L466.5 78.8 L464.1 82.3 L460.5 87.1 L458.2 90.6 L453.4 93 L449.9 94.2 L451.1 96.6 L453.4 98.9 L452.3 102.5 L451.1 107.2 L448.7 110.8 L446.3 114.3 L445 116.5 L441.1 116.8 L437.7 117.1 L434.2 117.4 L431.4 117.8 L430.7 119.9 L428.7 123.3 L427.3 127.2 L426 129.7 L423.5 131.2 L419 132 L415 132.3 L413.2 132.8 L409.1 135.4 L406.3 136.9 L402.3 138.9 L399.1 140.1 L395.2 141.3 L392.8 142.5 L390.4 144.1 L388 148 L385.7 150.4 L383.3 152.4 L380.9 153.5 L378.5 154.3 L375.3 155.1 L372.1 156.3 L368.7 157.9"/><path d="M496 43.2 L494.3 50.8 L495.2 53.9 L494.5 57.8 L495.9 61.7 L497.4 65.7 L498.4 69.7 L499.5 73.2 L500.5 77.2 L501.7 82 L501 85 L497 85.4 L493 85.4 L490.6 85.2 L488.5 81.7 L487.4 78.9 L483 78 L477.9 78.1 L475 80 L472.4 81.2 L470 85.9 L467.7 90.6 L465.3 95.4 L462.9 100.1 L460.5 102.5 L458.2 104.9 L455.8 109.6 L453.4 114.3 L451.1 119.1 L448.7 122.2 L445 123 L442.5 123.3 L439.7 124 L437.7 125.4 L437 127.2 L435.6 129.8 L434.1 132.8 L431.2 134.2 L426.7 134.7 L422.3 136.7 L418 137.7 L415 138.8 L413.9 139.9 L412.5 141.9 L411.1 144 L408.1 146.4 L405.3 146.8 L399.7 147.6 L393.4 147.6 L391.8 149.6 L390.2 152.8 L387.9 155.9 L385.5 158.3 L384.7 161.4 L382.7 164.6 L380 166.2 L376 166.6 L372.1 167.4 L368.7 168.8"/><path d="M368.7 220.4 L375 220.4 L381 220.7"/><path d="M488.3 21.8 L488.3 33.2 M489.4 21.8 L489.4 34.2 M490.6 21.8 L490.6 35.2 M493 21.8 L493 36.2 M494 21.8 L494 37.2 M495 21.8 L495 38.2 M496 21.8 L496 43.2" stroke-width="0.33"/><path d="M496.2 85.4 L496.1 82.4 L497.2 80.6 L498.3 82.4 L498.2 85.4"/></g></g>
<g clip-path="url(#cc)"><rect x="45.9" y="272.7" width="25.4" height="9.11" fill="#5cb0e2"/>
<rect x="70.3" y="272.7" width="24.1" height="9.11" fill="#5cb0e2"/>
<rect x="93.4" y="272.7" width="17.4" height="9.11" fill="#5cb0e2"/>
<rect x="109.8" y="272.7" width="13.8" height="9.11" fill="#5cb0e2"/>
<rect x="122.6" y="272.7" width="21.4" height="9.11" fill="#5cb0e2"/>
<rect x="143" y="272.7" width="17.6" height="9.11" fill="#f08c8c"/>
<rect x="159.6" y="272.7" width="16.3" height="9.11" fill="#a00c1a"/>
<rect x="174.9" y="272.7" width="16.3" height="9.11" fill="#a00c1a"/>
<rect x="190.2" y="272.7" width="16.8" height="9.11" fill="#ec6458"/>
<rect x="206" y="272.7" width="16.2" height="9.11" fill="#fad6d6"/>
<rect x="236.5" y="272.7" width="16.4" height="9.11" fill="#fad6d6"/>
<rect x="251.9" y="272.7" width="16.7" height="9.11" fill="#fad6d6"/>
<rect x="45.9" y="280.81" width="25.4" height="9.11" fill="#5cb0e2"/>
<rect x="70.3" y="280.81" width="24.1" height="9.11" fill="#5cb0e2"/>
<rect x="93.4" y="280.81" width="17.4" height="9.11" fill="#5cb0e2"/>
<rect x="109.8" y="280.81" width="13.8" height="9.11" fill="#2b92d2"/>
<rect x="122.6" y="280.81" width="21.4" height="9.11" fill="#5cb0e2"/>
<rect x="143" y="280.81" width="17.6" height="9.11" fill="#e8402c"/>
<rect x="159.6" y="280.81" width="16.3" height="9.11" fill="#a00c1a"/>
<rect x="174.9" y="280.81" width="16.3" height="9.11" fill="#c41820"/>
<rect x="190.2" y="280.81" width="16.8" height="9.11" fill="#e8402c"/>
<rect x="206" y="280.81" width="16.2" height="9.11" fill="#f6b0b0"/>
<rect x="236.5" y="280.81" width="16.4" height="9.11" fill="#f08c8c"/>
<rect x="251.9" y="280.81" width="16.7" height="9.11" fill="#fad6d6"/>
<rect x="45.9" y="288.92" width="25.4" height="9.11" fill="#5cb0e2"/>
<rect x="70.3" y="288.92" width="24.1" height="9.11" fill="#5cb0e2"/>
<rect x="93.4" y="288.92" width="17.4" height="9.11" fill="#2b92d2"/>
<rect x="109.8" y="288.92" width="13.8" height="9.11" fill="#5cb0e2"/>
<rect x="143" y="288.92" width="17.6" height="9.11" fill="#e8402c"/>
<rect x="159.6" y="288.92" width="16.3" height="9.11" fill="#a00c1a"/>
<rect x="174.9" y="288.92" width="16.3" height="9.11" fill="#e8402c"/>
<rect x="190.2" y="288.92" width="16.8" height="9.11" fill="#e8402c"/>
<rect x="206" y="288.92" width="16.2" height="9.11" fill="#ec6458"/>
<rect x="221.2" y="288.92" width="16.3" height="9.11" fill="#fad6d6"/>
<rect x="236.5" y="288.92" width="16.4" height="9.11" fill="#f08c8c"/>
<rect x="251.9" y="288.92" width="16.7" height="9.11" fill="#f08c8c"/>
<rect x="45.9" y="297.03" width="25.4" height="9.11" fill="#92ceee"/>
<rect x="70.3" y="297.03" width="24.1" height="9.11" fill="#92ceee"/>
<rect x="93.4" y="297.03" width="17.4" height="9.11" fill="#2b92d2"/>
<rect x="109.8" y="297.03" width="13.8" height="9.11" fill="#92ceee"/>
<rect x="122.6" y="297.03" width="21.4" height="9.11" fill="#f08c8c"/>
<rect x="143" y="297.03" width="17.6" height="9.11" fill="#e8402c"/>
<rect x="159.6" y="297.03" width="16.3" height="9.11" fill="#e8402c"/>
<rect x="174.9" y="297.03" width="16.3" height="9.11" fill="#ec6458"/>
<rect x="190.2" y="297.03" width="16.8" height="9.11" fill="#e8402c"/>
<rect x="206" y="297.03" width="16.2" height="9.11" fill="#ec6458"/>
<rect x="221.2" y="297.03" width="16.3" height="9.11" fill="#f08c8c"/>
<rect x="236.5" y="297.03" width="16.4" height="9.11" fill="#f08c8c"/>
<rect x="251.9" y="297.03" width="16.7" height="9.11" fill="#fad6d6"/>
<rect x="45.9" y="305.13" width="25.4" height="9.11" fill="#92ceee"/>
<rect x="70.3" y="305.13" width="24.1" height="9.11" fill="#92ceee"/>
<rect x="93.4" y="305.13" width="17.4" height="9.11" fill="#5cb0e2"/>
<rect x="122.6" y="305.13" width="21.4" height="9.11" fill="#e8402c"/>
<rect x="143" y="305.13" width="17.6" height="9.11" fill="#e8402c"/>
<rect x="159.6" y="305.13" width="16.3" height="9.11" fill="#ec6458"/>
<rect x="174.9" y="305.13" width="16.3" height="9.11" fill="#ec6458"/>
<rect x="190.2" y="305.13" width="16.8" height="9.11" fill="#e8402c"/>
<rect x="206" y="305.13" width="16.2" height="9.11" fill="#ec6458"/>
<rect x="221.2" y="305.13" width="16.3" height="9.11" fill="#fad6d6"/>
<rect x="236.5" y="305.13" width="16.4" height="9.11" fill="#f08c8c"/>
<rect x="45.9" y="313.24" width="25.4" height="9.11" fill="#c8e4f6"/>
<rect x="70.3" y="313.24" width="24.1" height="9.11" fill="#c8e4f6"/>
<rect x="109.8" y="313.24" width="13.8" height="9.11" fill="#ec6458"/>
<rect x="122.6" y="313.24" width="21.4" height="9.11" fill="#e8402c"/>
<rect x="143" y="313.24" width="17.6" height="9.11" fill="#e8402c"/>
<rect x="159.6" y="313.24" width="16.3" height="9.11" fill="#f08c8c"/>
<rect x="174.9" y="313.24" width="16.3" height="9.11" fill="#f08c8c"/>
<rect x="190.2" y="313.24" width="16.8" height="9.11" fill="#e8402c"/>
<rect x="206" y="313.24" width="16.2" height="9.11" fill="#f08c8c"/>
<rect x="221.2" y="313.24" width="16.3" height="9.11" fill="#fad6d6"/>
<rect x="236.5" y="313.24" width="16.4" height="9.11" fill="#f08c8c"/>
<rect x="251.9" y="313.24" width="16.7" height="9.11" fill="#fad6d6"/>
<rect x="45.9" y="321.35" width="25.4" height="9.11" fill="#92ceee"/>
<rect x="70.3" y="321.35" width="24.1" height="9.11" fill="#c8e4f6"/>
<rect x="93.4" y="321.35" width="17.4" height="9.11" fill="#fad6d6"/>
<rect x="109.8" y="321.35" width="13.8" height="9.11" fill="#ec6458"/>
<rect x="122.6" y="321.35" width="21.4" height="9.11" fill="#ec6458"/>
<rect x="143" y="321.35" width="17.6" height="9.11" fill="#e8402c"/>
<rect x="159.6" y="321.35" width="16.3" height="9.11" fill="#fad6d6"/>
<rect x="174.9" y="321.35" width="16.3" height="9.11" fill="#fad6d6"/>
<rect x="190.2" y="321.35" width="16.8" height="9.11" fill="#e8402c"/>
<rect x="206" y="321.35" width="16.2" height="9.11" fill="#f08c8c"/>
<rect x="221.2" y="321.35" width="16.3" height="9.11" fill="#fad6d6"/>
<rect x="236.5" y="321.35" width="16.4" height="9.11" fill="#f08c8c"/>
<rect x="251.9" y="321.35" width="16.7" height="9.11" fill="#fad6d6"/>
<rect x="45.9" y="329.46" width="25.4" height="9.11" fill="#2b92d2"/>
<rect x="70.3" y="329.46" width="24.1" height="9.11" fill="#c8e4f6"/>
<rect x="93.4" y="329.46" width="17.4" height="9.11" fill="#f08c8c"/>
<rect x="109.8" y="329.46" width="13.8" height="9.11" fill="#ec6458"/>
<rect x="122.6" y="329.46" width="21.4" height="9.11" fill="#f08c8c"/>
<rect x="143" y="329.46" width="17.6" height="9.11" fill="#ec6458"/>
<rect x="159.6" y="329.46" width="16.3" height="9.11" fill="#fad6d6"/>
<rect x="174.9" y="329.46" width="16.3" height="9.11" fill="#fad6d6"/>
<rect x="190.2" y="329.46" width="16.8" height="9.11" fill="#ec6458"/>
<rect x="206" y="329.46" width="16.2" height="9.11" fill="#f08c8c"/>
<rect x="221.2" y="329.46" width="16.3" height="9.11" fill="#fad6d6"/>
<rect x="236.5" y="329.46" width="16.4" height="9.11" fill="#f08c8c"/>
<rect x="251.9" y="329.46" width="16.7" height="9.11" fill="#fad6d6"/>
<rect x="45.9" y="337.57" width="25.4" height="9.11" fill="#92ceee"/>
<rect x="93.4" y="337.57" width="17.4" height="9.11" fill="#f6b0b0"/>
<rect x="109.8" y="337.57" width="13.8" height="9.11" fill="#fad6d6"/>
<rect x="122.6" y="337.57" width="21.4" height="9.11" fill="#fad6d6"/>
<rect x="143" y="337.57" width="17.6" height="9.11" fill="#ec6458"/>
<rect x="159.6" y="337.57" width="16.3" height="9.11" fill="#fad6d6"/>
<rect x="190.2" y="337.57" width="16.8" height="9.11" fill="#ec6458"/>
<rect x="206" y="337.57" width="16.2" height="9.11" fill="#f08c8c"/>
<rect x="221.2" y="337.57" width="16.3" height="9.11" fill="#f08c8c"/>
<rect x="236.5" y="337.57" width="16.4" height="9.11" fill="#f08c8c"/>
<rect x="251.9" y="337.57" width="16.7" height="9.11" fill="#fad6d6"/>
<rect x="45.9" y="345.68" width="25.4" height="9.11" fill="#c8e4f6"/>
<rect x="93.4" y="345.68" width="17.4" height="9.11" fill="#fad6d6"/>
<rect x="143" y="345.68" width="17.6" height="9.11" fill="#ec6458"/>
<rect x="159.6" y="345.68" width="16.3" height="9.11" fill="#fad6d6"/>
<rect x="190.2" y="345.68" width="16.8" height="9.11" fill="#f08c8c"/>
<rect x="206" y="345.68" width="16.2" height="9.11" fill="#f08c8c"/>
<rect x="221.2" y="345.68" width="16.3" height="9.11" fill="#f08c8c"/>
<rect x="236.5" y="345.68" width="16.4" height="9.11" fill="#f08c8c"/>
<rect x="251.9" y="345.68" width="16.7" height="9.11" fill="#fad6d6"/>
<rect x="143" y="353.79" width="17.6" height="9.11" fill="#ec6458"/>
<rect x="159.6" y="353.79" width="16.3" height="9.11" fill="#f08c8c"/>
<rect x="190.2" y="353.79" width="16.8" height="9.11" fill="#f08c8c"/>
<rect x="206" y="353.79" width="16.2" height="9.11" fill="#f08c8c"/>
<rect x="221.2" y="353.79" width="16.3" height="9.11" fill="#f08c8c"/>
<rect x="236.5" y="353.79" width="16.4" height="9.11" fill="#ec6458"/>
<rect x="251.9" y="353.79" width="16.7" height="9.11" fill="#fad6d6"/>
<rect x="143" y="361.9" width="17.6" height="9.11" fill="#ec6458"/>
<rect x="159.6" y="361.9" width="16.3" height="9.11" fill="#fad6d6"/>
<rect x="190.2" y="361.9" width="16.8" height="9.11" fill="#f08c8c"/>
<rect x="206" y="361.9" width="16.2" height="9.11" fill="#ec6458"/>
<rect x="221.2" y="361.9" width="16.3" height="9.11" fill="#ec6458"/>
<rect x="236.5" y="361.9" width="16.4" height="9.11" fill="#f08c8c"/>
<rect x="93.4" y="370" width="17.4" height="9.11" fill="#c8e4f6"/>
<rect x="143" y="370" width="17.6" height="9.11" fill="#ec6458"/>
<rect x="159.6" y="370" width="16.3" height="9.11" fill="#fad6d6"/>
<rect x="190.2" y="370" width="16.8" height="9.11" fill="#fad6d6"/>
<rect x="206" y="370" width="16.2" height="9.11" fill="#ec6458"/>
<rect x="221.2" y="370" width="16.3" height="9.11" fill="#ec6458"/>
<rect x="236.5" y="370" width="16.4" height="9.11" fill="#f08c8c"/>
<rect x="251.9" y="370" width="16.7" height="9.11" fill="#fad6d6"/>
<rect x="93.4" y="378.11" width="17.4" height="9.11" fill="#c8e4f6"/>
<rect x="143" y="378.11" width="17.6" height="9.11" fill="#f08c8c"/>
<rect x="159.6" y="378.11" width="16.3" height="9.11" fill="#fad6d6"/>
<rect x="190.2" y="378.11" width="16.8" height="9.11" fill="#fad6d6"/>
<rect x="206" y="378.11" width="16.2" height="9.11" fill="#ec6458"/>
<rect x="221.2" y="378.11" width="16.3" height="9.11" fill="#f08c8c"/>
<rect x="236.5" y="378.11" width="16.4" height="9.11" fill="#ec6458"/>
<rect x="251.9" y="378.11" width="16.7" height="9.11" fill="#f08c8c"/>
<rect x="93.4" y="386.22" width="17.4" height="9.11" fill="#c8e4f6"/>
<rect x="109.8" y="386.22" width="13.8" height="9.11" fill="#c8e4f6"/>
<rect x="143" y="386.22" width="17.6" height="9.11" fill="#ec6458"/>
<rect x="159.6" y="386.22" width="16.3" height="9.11" fill="#fad6d6"/>
<rect x="190.2" y="386.22" width="16.8" height="9.11" fill="#fad6d6"/>
<rect x="206" y="386.22" width="16.2" height="9.11" fill="#f08c8c"/>
<rect x="221.2" y="386.22" width="16.3" height="9.11" fill="#f08c8c"/>
<rect x="236.5" y="386.22" width="16.4" height="9.11" fill="#ec6458"/>
<rect x="251.9" y="386.22" width="16.7" height="9.11" fill="#fad6d6"/>
<rect x="70.3" y="394.33" width="24.1" height="9.11" fill="#c8e4f6"/>
<rect x="93.4" y="394.33" width="17.4" height="9.11" fill="#c8e4f6"/>
<rect x="143" y="394.33" width="17.6" height="9.11" fill="#ec6458"/>
<rect x="159.6" y="394.33" width="16.3" height="9.11" fill="#fad6d6"/>
<rect x="190.2" y="394.33" width="16.8" height="9.11" fill="#fad6d6"/>
<rect x="206" y="394.33" width="16.2" height="9.11" fill="#f08c8c"/>
<rect x="221.2" y="394.33" width="16.3" height="9.11" fill="#f08c8c"/>
<rect x="236.5" y="394.33" width="16.4" height="9.11" fill="#f08c8c"/>
<rect x="251.9" y="394.33" width="16.7" height="9.11" fill="#fad6d6"/>
<rect x="70.3" y="402.44" width="24.1" height="9.11" fill="#c8e4f6"/>
<rect x="93.4" y="402.44" width="17.4" height="9.11" fill="#92ceee"/>
<rect x="109.8" y="402.44" width="13.8" height="9.11" fill="#c8e4f6"/>
<rect x="143" y="402.44" width="17.6" height="9.11" fill="#ec6458"/>
<rect x="159.6" y="402.44" width="16.3" height="9.11" fill="#fad6d6"/>
<rect x="206" y="402.44" width="16.2" height="9.11" fill="#f08c8c"/>
<rect x="221.2" y="402.44" width="16.3" height="9.11" fill="#f08c8c"/>
<rect x="236.5" y="402.44" width="16.4" height="9.11" fill="#f08c8c"/>
<rect x="251.9" y="402.44" width="16.7" height="9.11" fill="#f08c8c"/>
<rect x="70.3" y="410.55" width="24.1" height="9.11" fill="#c8e4f6"/>
<rect x="93.4" y="410.55" width="17.4" height="9.11" fill="#92ceee"/>
<rect x="122.6" y="410.55" width="21.4" height="9.11" fill="#fad6d6"/>
<rect x="143" y="410.55" width="17.6" height="9.11" fill="#ec6458"/>
<rect x="159.6" y="410.55" width="16.3" height="9.11" fill="#fad6d6"/>
<rect x="206" y="410.55" width="16.2" height="9.11" fill="#fad6d6"/>
<rect x="221.2" y="410.55" width="16.3" height="9.11" fill="#fad6d6"/>
<rect x="236.5" y="410.55" width="16.4" height="9.11" fill="#f08c8c"/>
<rect x="251.9" y="410.55" width="16.7" height="9.11" fill="#f08c8c"/>
<rect x="70.3" y="418.66" width="24.1" height="9.11" fill="#c8e4f6"/>
<rect x="93.4" y="418.66" width="17.4" height="9.11" fill="#c8e4f6"/>
<rect x="122.6" y="418.66" width="21.4" height="9.11" fill="#fad6d6"/>
<rect x="143" y="418.66" width="17.6" height="9.11" fill="#f08c8c"/>
<rect x="159.6" y="418.66" width="16.3" height="9.11" fill="#fad6d6"/>
<rect x="221.2" y="418.66" width="16.3" height="9.11" fill="#fad6d6"/>
<rect x="236.5" y="418.66" width="16.4" height="9.11" fill="#f08c8c"/>
<rect x="251.9" y="418.66" width="16.7" height="9.11" fill="#f08c8c"/>
<rect x="70.3" y="426.77" width="24.1" height="9.11" fill="#c8e4f6"/>
<rect x="93.4" y="426.77" width="17.4" height="9.11" fill="#c8e4f6"/>
<rect x="122.6" y="426.77" width="21.4" height="9.11" fill="#fad6d6"/>
<rect x="143" y="426.77" width="17.6" height="9.11" fill="#f08c8c"/>
<rect x="159.6" y="426.77" width="16.3" height="9.11" fill="#fad6d6"/>
<rect x="221.2" y="426.77" width="16.3" height="9.11" fill="#fad6d6"/>
<rect x="236.5" y="426.77" width="16.4" height="9.11" fill="#f08c8c"/>
<rect x="251.9" y="426.77" width="16.7" height="9.11" fill="#f08c8c"/>
<rect x="70.3" y="434.87" width="24.1" height="9.11" fill="#c8e4f6"/>
<rect x="109.8" y="434.87" width="13.8" height="9.11" fill="#fad6d6"/>
<rect x="122.6" y="434.87" width="21.4" height="9.11" fill="#fad6d6"/>
<rect x="143" y="434.87" width="17.6" height="9.11" fill="#fad6d6"/>
<rect x="159.6" y="434.87" width="16.3" height="9.11" fill="#fad6d6"/>
<rect x="221.2" y="434.87" width="16.3" height="9.11" fill="#fad6d6"/>
<rect x="236.5" y="434.87" width="16.4" height="9.11" fill="#f08c8c"/>
<rect x="251.9" y="434.87" width="16.7" height="9.11" fill="#fad6d6"/>
<rect x="109.8" y="442.98" width="13.8" height="9.11" fill="#fad6d6"/>
<rect x="122.6" y="442.98" width="21.4" height="9.11" fill="#fad6d6"/>
<rect x="143" y="442.98" width="17.6" height="9.11" fill="#fad6d6"/>
<rect x="159.6" y="442.98" width="16.3" height="9.11" fill="#fad6d6"/>
<rect x="221.2" y="442.98" width="16.3" height="9.11" fill="#fad6d6"/>
<rect x="236.5" y="442.98" width="16.4" height="9.11" fill="#f08c8c"/>
<rect x="251.9" y="442.98" width="16.7" height="9.11" fill="#fad6d6"/>
<rect x="109.8" y="451.09" width="13.8" height="9.11" fill="#fad6d6"/>
<rect x="143" y="451.09" width="17.6" height="9.11" fill="#fad6d6"/>
<rect x="159.6" y="451.09" width="16.3" height="9.11" fill="#fad6d6"/>
<rect x="221.2" y="451.09" width="16.3" height="9.11" fill="#fad6d6"/>
<rect x="236.5" y="451.09" width="16.4" height="9.11" fill="#fad6d6"/>
<rect x="251.9" y="451.09" width="16.7" height="9.11" fill="#fad6d6"/><g fill="none" stroke="#333333" stroke-width="0.7" stroke-linejoin="round"><path d="M165.2 271 L161.9 274.5 L159.5 278.8 L155.6 282.8 L152.6 286.7 L149.6 289.7 L145.7 291.6 L141.7 292.6 L138.8 294.6 L135.8 298.6 L133.9 300 L130.3 304.7 L127.4 309.5 L124.4 313 L119.7 315.4 L114.9 317.2 L111.4 320.1 L107.8 323.7 L104.3 328.4 L102.5 330 L101.4 332.1 L100 334.1 L97.3 336.2 L95.2 338.3 L93.8 341.8 L92.4 343.1 L89.7 344.9 L86.9 346.3 L83.2 350 L81.1 351 L78.3 352.4 L75.6 354.1 L72.8 355.5 L69.3 355.9 L65.2 356.6 L61.3 357.8 L58 359.5 L55.7 361.3 L53.9 363.6 L52.4 365 L51.8 366.2 L50 368.6 L48.2 370.9 L45.6 372.4"/><path d="M166.3 272 L163.4 275.5 L161.4 279 L161.2 285.5 L158.9 289 L154.9 288.6 L150.7 291.1 L146.3 292.7 L142.9 293.6 L140.6 295.2 L138.7 298.4 L136.2 300.9 L132.7 304.7 L130.3 309.5 L128 313 L124.4 315.4 L119.7 317.8 L114.9 321.3 L111.4 324.9 L107.8 329.6 L107 330 L105.6 332.8 L103.5 335.5 L100 338.3 L98 341.1 L95.9 344.5 L93.1 348 L90.4 349.4 L86.9 350.7 L84.6 353.1 L80.4 354.8 L77 356.2 L74.2 356.9 L70.7 357.6 L67.3 358.6 L63.8 359.7 L61.7 361.1 L58.9 365 L57.7 366.8 L56 369.2 L54.2 371.5 L51.8 373 L48.2 374.2 L45.6 375.4"/><path d="M167.5 273 L164.9 276 L163.3 279 L163.2 288 L161.4 291 L156.9 290.5 L154.9 291.4 L150.7 293.9 L145.7 295.8 L142.9 296.5 L141.2 298.4 L139.3 301.5 L137.4 304.7 L133.3 309.5 L130.9 313 L128 316 L123.2 319 L118.5 322.5 L114.9 326.1 L111.8 330 L110.4 332.8 L107.6 335.5 L104.2 337.6 L102.1 340.4 L100.7 343.8 L98.7 346.6 L96.6 349.4 L93.8 350.7 L90.4 352.8 L86.9 354.9 L83.9 356.6 L80.4 357.6 L77 358.6 L73.5 359.3 L70 360.4 L68 361.8 L66.6 363.8 L63.8 365.9 L62.9 368 L60.7 370.9 L58.3 373.3 L55.4 374.5 L52.4 375.7 L48.8 377.5 L45.6 379.2"/><path d="M169.9 274 L166.4 277 L165.3 280 L165.3 289 L163.4 292.5 L158.9 293.5 L154.9 295.8 L150.7 298.4 L146.3 300.3 L142.9 300.9 L140.6 304.1 L138.7 307.2 L136.8 310.4 L133.9 313.6 L130.3 317.2 L126.8 320.7 L122 324.9 L118.5 328.4 L115.9 330 L115.3 331.4 L113.9 333.5 L112.5 336.2 L109 337.6 L107 339 L105.9 343.1 L104.9 347.3 L103.5 350.1 L100.7 352.1 L97.3 353.5 L93.8 355.6 L90.4 357.7 L86.9 359.3 L84.6 361.8 L81.1 363.1 L77.6 364.2 L74.2 364.5 L70.7 365.6 L68.7 368 L67.3 370.7 L65.2 373.5 L62.9 373.9 L60.7 375.1 L57.7 376.9 L54.8 378.6 L53 381 L51.2 384 L48.8 386.4 L45.6 388.4"/><path d="M170.9 275 L167.4 278 L167.3 288.5 L164.9 291.2 L160.9 295.5 L154.9 299 L150.7 300.9 L147.6 301.8 L145 302.8 L142.9 304 L141.2 307.2 L140 310.4 L139.1 312.5 L138 315.4 L136.3 319 L132.7 322.5 L129.2 326.1 L125.6 328.5 L120.9 331 L120.1 332.1 L118.7 334.1 L118 336.9 L115.9 338.3 L114.6 339.7 L113.2 342.4 L111.1 345.2 L109.7 347.3 L107.6 350.7 L104.9 353.5 L102.1 355.6 L99.3 357.7 L97.3 360.4 L95.2 365 L91.9 365.6 L88.7 366.5 L84.6 368.7 L80.5 370.5 L76.9 372.2 L73.9 373.6 L70.9 374.6 L68 376.2 L65.6 377.9 L63.2 379.5 L60.9 381.7 L58.4 383.4 L55.4 386.8 L52.4 388.7 L48.8 389.9 L45.6 391.1"/><path d="M171.9 276 L169.3 279 L169.3 289 L166.9 292 L162.9 294.5 L159.9 297 L157.9 300 L156.5 303.5 L151.9 305.9 L146.9 307.6 L144.6 308.3 L142.8 309.5 L142.2 314.2 L143.4 316.6 L141 320.1 L137.4 324.9 L135.1 328.4 L130.3 330.8 L126.8 332 L128 334.4 L130.3 336.7 L129.2 340.3 L128 345 L125.6 348.6 L123.2 352.1 L121.9 354.3 L118 354.6 L114.6 354.9 L111.1 355.2 L108.3 355.6 L107.6 357.7 L105.6 361.1 L104.2 365 L102.9 367.5 L100.4 369 L95.9 369.8 L91.9 370.1 L90.1 370.6 L86 373.2 L83.2 374.7 L79.2 376.7 L76 377.9 L72.1 379.1 L69.7 380.3 L67.3 381.9 L64.9 385.8 L62.6 388.2 L60.2 390.2 L57.8 391.3 L55.4 392.1 L52.2 392.9 L49 394.1 L45.6 395.7"/><path d="M172.9 281 L171.2 288.6 L172.1 291.7 L171.4 295.6 L172.8 299.5 L174.3 303.5 L175.3 307.5 L176.4 311 L177.4 315 L178.6 319.8 L177.9 322.8 L173.9 323.2 L169.9 323.2 L167.5 323 L165.4 319.5 L164.3 316.7 L159.9 315.8 L154.8 315.9 L151.9 317.8 L149.3 319 L146.9 323.7 L144.6 328.4 L142.2 333.2 L139.8 337.9 L137.4 340.3 L135.1 342.7 L132.7 347.4 L130.3 352.1 L128 356.9 L125.6 360 L121.9 360.8 L119.4 361.1 L116.6 361.8 L114.6 363.2 L113.9 365 L112.5 367.6 L111 370.6 L108.1 372 L103.6 372.5 L99.2 374.5 L94.9 375.5 L91.9 376.6 L90.8 377.7 L89.4 379.7 L88 381.8 L85 384.2 L82.2 384.6 L76.6 385.4 L70.3 385.4 L68.7 387.4 L67.1 390.6 L64.8 393.7 L62.4 396.1 L61.6 399.2 L59.6 402.4 L56.9 404 L52.9 404.4 L49 405.2 L45.6 406.6"/><path d="M45.6 458.2 L51.9 458.2 L57.9 458.5"/><path d="M165.2 259.6 L165.2 271 M166.3 259.6 L166.3 272 M167.5 259.6 L167.5 273 M169.9 259.6 L169.9 274 M170.9 259.6 L170.9 275 M171.9 259.6 L171.9 276 M172.9 259.6 L172.9 281" stroke-width="0.42"/><path d="M173.1 323.2 L173 320.2 L174.1 318.4 L175.2 320.2 L175.1 323.2"/></g></g>
<g clip-path="url(#cd)"><rect x="482.7" y="272.7" width="15.3" height="8.11" fill="#e8402c"/>
<rect x="498" y="272.7" width="15.3" height="8.11" fill="#a00c1a"/>
<rect x="513.3" y="272.7" width="15.8" height="8.11" fill="#f08c8c"/>
<rect x="466.1" y="280.81" width="16.6" height="8.11" fill="#e8402c"/>
<rect x="513.3" y="280.81" width="15.8" height="8.11" fill="#ec6458"/>
<rect x="466.1" y="288.92" width="16.6" height="8.11" fill="#f6b0b0"/>
<rect x="482.7" y="288.92" width="15.3" height="8.11" fill="#2b92d2"/>
<rect x="513.3" y="288.92" width="15.8" height="8.11" fill="#f08c8c"/>
<rect x="466.1" y="297.03" width="16.6" height="8.11" fill="#fad6d6"/>
<rect x="482.7" y="297.03" width="15.3" height="8.11" fill="#92ceee"/>
<rect x="513.3" y="297.03" width="15.8" height="8.11" fill="#fad6d6"/>
<rect x="416.5" y="305.13" width="16.4" height="8.11" fill="#fad6d6"/>
<rect x="445.7" y="305.13" width="20.4" height="8.11" fill="#fad6d6"/>
<rect x="513.3" y="305.13" width="15.8" height="8.11" fill="#fad6d6"/>
<rect x="432.9" y="313.24" width="12.8" height="8.11" fill="#fad6d6"/>
<rect x="432.9" y="321.35" width="12.8" height="8.11" fill="#fad6d6"/>
<rect x="529.1" y="378.11" width="15.2" height="8.11" fill="#c8e4f6"/><g fill="none" stroke="#333333" stroke-width="0.7" stroke-linejoin="round"><path d="M488.3 271 L485 274.5 L482.6 278.8 L478.7 282.8 L475.7 286.7 L472.7 289.7 L468.8 291.6 L464.8 292.6 L461.9 294.6 L458.9 298.6 L457 300 L453.4 304.7 L450.5 309.5 L447.5 313 L442.8 315.4 L438 317.2 L434.5 320.1 L430.9 323.7 L427.4 328.4 L425.6 330 L424.5 332.1 L423.1 334.1 L420.4 336.2 L418.3 338.3 L416.9 341.8 L415.5 343.1 L412.8 344.9 L410 346.3 L406.3 350 L404.2 351 L401.4 352.4 L398.7 354.1 L395.9 355.5 L392.4 355.9 L388.3 356.6 L384.4 357.8 L381.1 359.5 L378.8 361.3 L377 363.6 L375.5 365 L374.9 366.2 L373.1 368.6 L371.3 370.9 L368.7 372.4"/><path d="M489.4 272 L486.5 275.5 L484.5 279 L484.3 285.5 L482 289 L478 288.6 L473.8 291.1 L469.4 292.7 L466 293.6 L463.7 295.2 L461.8 298.4 L459.3 300.9 L455.8 304.7 L453.4 309.5 L451.1 313 L447.5 315.4 L442.8 317.8 L438 321.3 L434.5 324.9 L430.9 329.6 L430.1 330 L428.7 332.8 L426.6 335.5 L423.1 338.3 L421.1 341.1 L419 344.5 L416.2 348 L413.5 349.4 L410 350.7 L407.7 353.1 L403.5 354.8 L400.1 356.2 L397.3 356.9 L393.8 357.6 L390.4 358.6 L386.9 359.7 L384.8 361.1 L382 365 L380.8 366.8 L379.1 369.2 L377.3 371.5 L374.9 373 L371.3 374.2 L368.7 375.4"/><path d="M490.6 273 L488 276 L486.4 279 L486.3 288 L484.5 291 L480 290.5 L478 291.4 L473.8 293.9 L468.8 295.8 L466 296.5 L464.3 298.4 L462.4 301.5 L460.5 304.7 L456.4 309.5 L454 313 L451.1 316 L446.3 319 L441.6 322.5 L438 326.1 L434.9 330 L433.5 332.8 L430.7 335.5 L427.3 337.6 L425.2 340.4 L423.8 343.8 L421.8 346.6 L419.7 349.4 L416.9 350.7 L413.5 352.8 L410 354.9 L407 356.6 L403.5 357.6 L400.1 358.6 L396.6 359.3 L393.1 360.4 L391.1 361.8 L389.7 363.8 L386.9 365.9 L386 368 L383.8 370.9 L381.4 373.3 L378.5 374.5 L375.5 375.7 L371.9 377.5 L368.7 379.2"/><path d="M493 274 L489.5 277 L488.4 280 L488.4 289 L486.5 292.5 L482 293.5 L478 295.8 L473.8 298.4 L469.4 300.3 L466 300.9 L463.7 304.1 L461.8 307.2 L459.9 310.4 L457 313.6 L453.4 317.2 L449.9 320.7 L445.1 324.9 L441.6 328.4 L439 330 L438.4 331.4 L437 333.5 L435.6 336.2 L432.1 337.6 L430.1 339 L429 343.1 L428 347.3 L426.6 350.1 L423.8 352.1 L420.4 353.5 L416.9 355.6 L413.5 357.7 L410 359.3 L407.7 361.8 L404.2 363.1 L400.7 364.2 L397.3 364.5 L393.8 365.6 L391.8 368 L390.4 370.7 L388.3 373.5 L386 373.9 L383.8 375.1 L380.8 376.9 L377.9 378.6 L376.1 381 L374.3 384 L371.9 386.4 L368.7 388.4"/><path d="M494 275 L490.5 278 L490.4 288.5 L488 291.2 L484 295.5 L478 299 L473.8 300.9 L470.7 301.8 L468.1 302.8 L466 304 L464.3 307.2 L463.1 310.4 L462.2 312.5 L461.1 315.4 L459.4 319 L455.8 322.5 L452.3 326.1 L448.7 328.5 L444 331 L443.2 332.1 L441.8 334.1 L441.1 336.9 L439 338.3 L437.7 339.7 L436.3 342.4 L434.2 345.2 L432.8 347.3 L430.7 350.7 L428 353.5 L425.2 355.6 L422.4 357.7 L420.4 360.4 L418.3 365 L415 365.6 L411.8 366.5 L407.7 368.7 L403.6 370.5 L400 372.2 L397 373.6 L394 374.6 L391.1 376.2 L388.7 377.9 L386.3 379.5 L384 381.7 L381.5 383.4 L378.5 386.8 L375.5 388.7 L371.9 389.9 L368.7 391.1"/><path d="M495 276 L492.4 279 L492.4 289 L490 292 L486 294.5 L483 297 L481 300 L479.6 303.5 L475 305.9 L470 307.6 L467.7 308.3 L465.9 309.5 L465.3 314.2 L466.5 316.6 L464.1 320.1 L460.5 324.9 L458.2 328.4 L453.4 330.8 L449.9 332 L451.1 334.4 L453.4 336.7 L452.3 340.3 L451.1 345 L448.7 348.6 L446.3 352.1 L445 354.3 L441.1 354.6 L437.7 354.9 L434.2 355.2 L431.4 355.6 L430.7 357.7 L428.7 361.1 L427.3 365 L426 367.5 L423.5 369 L419 369.8 L415 370.1 L413.2 370.6 L409.1 373.2 L406.3 374.7 L402.3 376.7 L399.1 377.9 L395.2 379.1 L392.8 380.3 L390.4 381.9 L388 385.8 L385.7 388.2 L383.3 390.2 L380.9 391.3 L378.5 392.1 L375.3 392.9 L372.1 394.1 L368.7 395.7"/><path d="M496 281 L494.3 288.6 L495.2 291.7 L494.5 295.6 L495.9 299.5 L497.4 303.5 L498.4 307.5 L499.5 311 L500.5 315 L501.7 319.8 L501 322.8 L497 323.2 L493 323.2 L490.6 323 L488.5 319.5 L487.4 316.7 L483 315.8 L477.9 315.9 L475 317.8 L472.4 319 L470 323.7 L467.7 328.4 L465.3 333.2 L462.9 337.9 L460.5 340.3 L458.2 342.7 L455.8 347.4 L453.4 352.1 L451.1 356.9 L448.7 360 L445 360.8 L442.5 361.1 L439.7 361.8 L437.7 363.2 L437 365 L435.6 367.6 L434.1 370.6 L431.2 372 L426.7 372.5 L422.3 374.5 L418 375.5 L415 376.6 L413.9 377.7 L412.5 379.7 L411.1 381.8 L408.1 384.2 L405.3 384.6 L399.7 385.4 L393.4 385.4 L391.8 387.4 L390.2 390.6 L387.9 393.7 L385.5 396.1 L384.7 399.2 L382.7 402.4 L380 404 L376 404.4 L372.1 405.2 L368.7 406.6"/><path d="M368.7 458.2 L375 458.2 L381 458.5"/><path d="M488.3 259.6 L488.3 271 M489.4 259.6 L489.4 272 M490.6 259.6 L490.6 273 M493 259.6 L493 274 M494 259.6 L494 275 M495 259.6 L495 276 M496 259.6 L496 281" stroke-width="0.42"/><path d="M496.2 323.2 L496.1 320.2 L497.2 318.4 L498.3 320.2 L498.2 323.2"/></g></g>
<path d="M45.5 459.2 V257.2 H267 V459.2 H45.5" fill="none" stroke="#8c8c8c" stroke-width="1"/>
<path d="M57.3 257.2 v2.2 M57.3 459.2 v-2.2 M103.62 257.2 v2.2 M103.62 459.2 v-2.2 M149.95 257.2 v2.2 M149.95 459.2 v-2.2 M196.27 257.2 v2.2 M196.27 459.2 v-2.2 M242.6 257.2 v2.2 M242.6 459.2 v-2.2 M45.5 257.2 h2.2 M267 257.2 h-2.2 M45.5 307.7 h2.2 M267 307.7 h-2.2 M45.5 358.2 h2.2 M267 358.2 h-2.2 M45.5 408.7 h2.2 M267 408.7 h-2.2 M45.5 459.2 h2.2 M267 459.2 h-2.2" stroke="#6e6e6e" stroke-width="1" fill="none"/>
<path d="M368.6 459.2 V257.2 H590.1 V459.2 H368.6" fill="none" stroke="#8c8c8c" stroke-width="1"/>
<path d="M380.4 257.2 v2.2 M380.4 459.2 v-2.2 M426.72 257.2 v2.2 M426.72 459.2 v-2.2 M473.05 257.2 v2.2 M473.05 459.2 v-2.2 M519.37 257.2 v2.2 M519.37 459.2 v-2.2 M565.7 257.2 v2.2 M565.7 459.2 v-2.2 M368.6 257.2 h2.2 M590.1 257.2 h-2.2 M368.6 307.7 h2.2 M590.1 307.7 h-2.2 M368.6 358.2 h2.2 M590.1 358.2 h-2.2 M368.6 408.7 h2.2 M590.1 408.7 h-2.2 M368.6 459.2 h2.2 M590.1 459.2 h-2.2" stroke="#6e6e6e" stroke-width="1" fill="none"/>
<rect x="287.2" y="19.4" width="11.3" height="202" fill="url(#jetg)" stroke="#8c8c8c" stroke-width="0.8"/>
<rect x="609.8" y="19.4" width="11.3" height="202" fill="url(#jetg)" stroke="#8c8c8c" stroke-width="0.8"/>
<rect x="287.2" y="257.2" width="11.3" height="9.48" fill="#a0111e"/>
<rect x="287.2" y="266.38" width="11.3" height="9.48" fill="#b9161f"/>
<rect x="287.2" y="275.56" width="11.3" height="9.48" fill="#d42127"/>
<rect x="287.2" y="284.75" width="11.3" height="9.48" fill="#e42d27"/>
<rect x="287.2" y="293.93" width="11.3" height="9.48" fill="#e9392b"/>
<rect x="287.2" y="303.11" width="11.3" height="9.48" fill="#ec4a32"/>
<rect x="287.2" y="312.29" width="11.3" height="9.48" fill="#ee6352"/>
<rect x="287.2" y="321.47" width="11.3" height="9.48" fill="#f28a8a"/>
<rect x="287.2" y="330.65" width="11.3" height="9.48" fill="#f6b3b3"/>
<rect x="287.2" y="339.84" width="11.3" height="9.48" fill="#fadcdc"/>
<rect x="287.2" y="349.02" width="11.3" height="9.48" fill="#ffffff"/>
<rect x="287.2" y="358.2" width="11.3" height="9.48" fill="#ffffff"/>
<rect x="287.2" y="367.38" width="11.3" height="9.48" fill="#cae5f5"/>
<rect x="287.2" y="376.56" width="11.3" height="9.48" fill="#93cdee"/>
<rect x="287.2" y="385.75" width="11.3" height="9.48" fill="#5db0e2"/>
<rect x="287.2" y="394.93" width="11.3" height="9.48" fill="#2c93d2"/>
<rect x="287.2" y="404.11" width="11.3" height="9.48" fill="#1e7cc3"/>
<rect x="287.2" y="413.29" width="11.3" height="9.48" fill="#2067b4"/>
<rect x="287.2" y="422.47" width="11.3" height="9.48" fill="#2456a8"/>
<rect x="287.2" y="431.65" width="11.3" height="9.48" fill="#27459c"/>
<rect x="287.2" y="440.84" width="11.3" height="9.48" fill="#2a3891"/>
<rect x="287.2" y="450.02" width="11.3" height="9.48" fill="#2c2b88"/>
<rect x="287.2" y="257.2" width="11.3" height="202" fill="none" stroke="#8c8c8c" stroke-width="0.8"/>
<rect x="609.8" y="257.2" width="11.3" height="9.48" fill="#a0111e"/>
<rect x="609.8" y="266.38" width="11.3" height="9.48" fill="#b9161f"/>
<rect x="609.8" y="275.56" width="11.3" height="9.48" fill="#d42127"/>
<rect x="609.8" y="284.75" width="11.3" height="9.48" fill="#e42d27"/>
<rect x="609.8" y="293.93" width="11.3" height="9.48" fill="#e9392b"/>
<rect x="609.8" y="303.11" width="11.3" height="9.48" fill="#ec4a32"/>
<rect x="609.8" y="312.29" width="11.3" height="9.48" fill="#ee6352"/>
<rect x="609.8" y="321.47" width="11.3" height="9.48" fill="#f28a8a"/>
<rect x="609.8" y="330.65" width="11.3" height="9.48" fill="#f6b3b3"/>
<rect x="609.8" y="339.84" width="11.3" height="9.48" fill="#fadcdc"/>
<rect x="609.8" y="349.02" width="11.3" height="9.48" fill="#ffffff"/>
<rect x="609.8" y="358.2" width="11.3" height="9.48" fill="#ffffff"/>
<rect x="609.8" y="367.38" width="11.3" height="9.48" fill="#cae5f5"/>
<rect x="609.8" y="376.56" width="11.3" height="9.48" fill="#93cdee"/>
<rect x="609.8" y="385.75" width="11.3" height="9.48" fill="#5db0e2"/>
<rect x="609.8" y="394.93" width="11.3" height="9.48" fill="#2c93d2"/>
<rect x="609.8" y="404.11" width="11.3" height="9.48" fill="#1e7cc3"/>
<rect x="609.8" y="413.29" width="11.3" height="9.48" fill="#2067b4"/>
<rect x="609.8" y="422.47" width="11.3" height="9.48" fill="#2456a8"/>
<rect x="609.8" y="431.65" width="11.3" height="9.48" fill="#27459c"/>
<rect x="609.8" y="440.84" width="11.3" height="9.48" fill="#2a3891"/>
<rect x="609.8" y="450.02" width="11.3" height="9.48" fill="#2c2b88"/>
<rect x="609.8" y="257.2" width="11.3" height="202" fill="none" stroke="#8c8c8c" stroke-width="0.8"/>
<path d="M298.5 221.4 h-2.2 M621.1 221.4 h-2.2 M298.5 181 h-2.2 M621.1 181 h-2.2 M298.5 140.6 h-2.2 M621.1 140.6 h-2.2 M298.5 100.2 h-2.2 M621.1 100.2 h-2.2 M298.5 59.8 h-2.2 M621.1 59.8 h-2.2 M298.5 19.4 h-2.2 M621.1 19.4 h-2.2 M298.5 266.38 h-2.2 M298.5 312.29 h-2.2 M298.5 358.2 h-2.2 M298.5 404.11 h-2.2 M298.5 450.02 h-2.2 M621.6 266.38 h-2.2 M621.6 312.29 h-2.2 M621.6 358.2 h-2.2 M621.6 404.11 h-2.2 M621.6 450.02 h-2.2" stroke="#555" stroke-width="0.9" fill="none"/>
<g font-family="Liberation Sans, sans-serif" font-size="13.8" fill="#262626">
<text x="41.1" y="24.9" text-anchor="end">0</text>
<text x="41.1" y="75.4" text-anchor="end">100</text>
<text x="41.1" y="125.9" text-anchor="end">200</text>
<text x="41.1" y="176.4" text-anchor="end">300</text>
<text x="41.1" y="226.9" text-anchor="end">400</text>
<text x="57.3" y="239.9" text-anchor="middle">39</text>
<text x="103.62" y="239.9" text-anchor="middle">39.05</text>
<text x="149.95" y="239.9" text-anchor="middle">39.1</text>
<text x="196.27" y="239.9" text-anchor="middle">39.15</text>
<text x="242.6" y="239.9" text-anchor="middle">39.2</text>
<text x="364.2" y="24.9" text-anchor="end">0</text>
<text x="364.2" y="75.4" text-anchor="end">100</text>
<text x="364.2" y="125.9" text-anchor="end">200</text>
<text x="364.2" y="176.4" text-anchor="end">300</text>
<text x="364.2" y="226.9" text-anchor="end">400</text>
<text x="380.4" y="239.9" text-anchor="middle">39</text>
<text x="426.72" y="239.9" text-anchor="middle">39.05</text>
<text x="473.05" y="239.9" text-anchor="middle">39.1</text>
<text x="519.37" y="239.9" text-anchor="middle">39.15</text>
<text x="565.7" y="239.9" text-anchor="middle">39.2</text>
<text x="41.1" y="262.7" text-anchor="end">0</text>
<text x="41.1" y="313.2" text-anchor="end">100</text>
<text x="41.1" y="363.7" text-anchor="end">200</text>
<text x="41.1" y="414.2" text-anchor="end">300</text>
<text x="41.1" y="464.7" text-anchor="end">400</text>
<text x="57.3" y="477.7" text-anchor="middle">39</text>
<text x="103.62" y="477.7" text-anchor="middle">39.05</text>
<text x="149.95" y="477.7" text-anchor="middle">39.1</text>
<text x="196.27" y="477.7" text-anchor="middle">39.15</text>
<text x="242.6" y="477.7" text-anchor="middle">39.2</text>
<text x="364.2" y="262.7" text-anchor="end">0</text>
<text x="364.2" y="313.2" text-anchor="end">100</text>
<text x="364.2" y="363.7" text-anchor="end">200</text>
<text x="364.2" y="414.2" text-anchor="end">300</text>
<text x="364.2" y="464.7" text-anchor="end">400</text>
<text x="380.4" y="477.7" text-anchor="middle">39</text>
<text x="426.72" y="477.7" text-anchor="middle">39.05</text>
<text x="473.05" y="477.7" text-anchor="middle">39.1</text>
<text x="519.37" y="477.7" text-anchor="middle">39.15</text>
<text x="565.7" y="477.7" text-anchor="middle">39.2</text>
<text x="302.3" y="227">0</text>
<text x="302.3" y="186.6">0.2</text>
<text x="302.3" y="146.2">0.4</text>
<text x="302.3" y="105.8">0.6</text>
<text x="302.3" y="65.4">0.8</text>
<text x="302.3" y="25">1</text>
<text x="625.2" y="227">0</text>
<text x="625.2" y="186.6">1</text>
<text x="625.2" y="146.2">2</text>
<text x="625.2" y="105.8">3</text>
<text x="625.2" y="65.4">4</text>
<text x="625.2" y="25">5</text>
<text x="302.3" y="271.98">2</text>
<text x="302.3" y="317.89">1</text>
<text x="302.3" y="363.8">0</text>
<text x="302.3" y="409.71">-1</text>
<text x="302.3" y="455.62">-2</text>
<text x="625.4" y="271.98">2</text>
<text x="625.4" y="317.89">1</text>
<text x="625.4" y="363.8">0</text>
<text x="625.4" y="409.71">-1</text>
<text x="625.4" y="455.62">-2</text>
</g>
<g font-family="Liberation Sans, sans-serif" font-size="20" fill="#000"><text x="19.2" y="17.4">a</text><text x="342.2" y="17.4">b</text><text x="19.4" y="255">c</text><text x="342.2" y="255">d</text></g>
<g font-family="Liberation Sans, sans-serif" font-size="15.5" fill="#262626"><text transform="translate(12.6,120) rotate(-90)" text-anchor="middle">Depth (m)</text><text transform="translate(12.6,357.8) rotate(-90)" text-anchor="middle">Depth (m)</text><text x="129.3" y="501.4">Lat (<tspan font-size="11" dy="-6.4" dx="0.3">o</tspan><tspan dy="6.4" dx="0.8">N)</tspan></text><text x="452.4" y="501.4">Lat (<tspan font-size="11" dy="-6.4" dx="0.3">o</tspan><tspan dy="6.4" dx="0.8">N)</tspan></text></g>
<g font-family="Liberation Sans, sans-serif" fill="#262626"><text x="278.1" y="14.5" font-size="11">(</text><text x="281.3" y="14.3" font-size="11">s</text><text x="286.8" y="8.8" font-size="8.6">-2</text><text x="294.7" y="14.5" font-size="11">)</text><text x="299.1" y="15.5" font-size="12.6">×</text><text x="308.1" y="14.8" font-size="12.6">10</text><text x="322" y="9" font-size="10">-4</text><text x="601.2" y="251.6" font-size="11">(</text><text x="604.4" y="251.4" font-size="11">s</text><text x="609.9" y="245.9" font-size="8.6">-3</text><text x="617.8" y="251.6" font-size="11">)</text><text x="622.2" y="252.6" font-size="12.6">×</text><text x="631.2" y="251.9" font-size="12.6">10</text><text x="645.1" y="246.1" font-size="10">-12</text></g></svg>
</body></html>
